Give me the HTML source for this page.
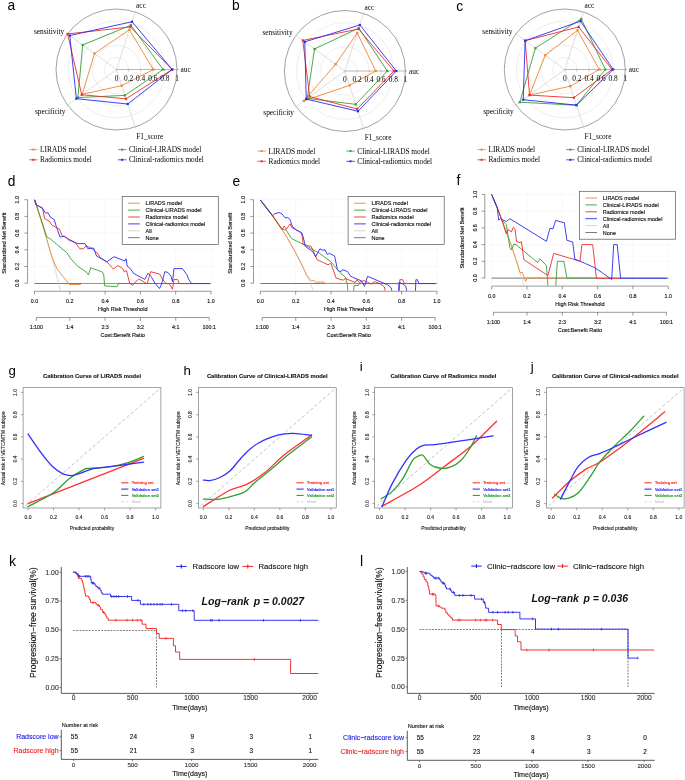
<!DOCTYPE html>
<html><head><meta charset="utf-8"><style>
html,body{margin:0;padding:0;background:#fff;width:685px;height:780px;overflow:hidden}
svg{display:block;will-change:transform}
</style></head><body>
<svg width="685" height="780" viewBox="0 0 685 780">
<rect width="685" height="780" fill="#fff"/>
<!-- radar a -->
<text x="7.6" y="10.4" font-size="13.8" font-family='"Liberation Sans", sans-serif' fill="#000">a</text>
<circle cx="116.5" cy="69.5" r="12.1" fill="none" stroke="#e2e2e2" stroke-width="0.6"/>
<circle cx="116.5" cy="69.5" r="24.2" fill="none" stroke="#e2e2e2" stroke-width="0.6"/>
<circle cx="116.5" cy="69.5" r="36.3" fill="none" stroke="#e2e2e2" stroke-width="0.6"/>
<circle cx="116.5" cy="69.5" r="48.4" fill="none" stroke="#e2e2e2" stroke-width="0.6"/>
<circle cx="116.5" cy="69.5" r="60.5" fill="none" stroke="#7a7a7a" stroke-width="0.7"/>
<line x1="116.5" y1="69.5" x2="178.51" y2="69.5" stroke="#8a8a8a" stroke-width="0.6"/>
<line x1="116.5" y1="69.5" x2="135.66" y2="10.52" stroke="#c8c8c8" stroke-width="0.6"/>
<line x1="116.5" y1="69.5" x2="66.33" y2="33.05" stroke="#c8c8c8" stroke-width="0.6"/>
<line x1="116.5" y1="69.5" x2="66.33" y2="105.95" stroke="#c8c8c8" stroke-width="0.6"/>
<line x1="116.5" y1="69.5" x2="135.66" y2="128.48" stroke="#c8c8c8" stroke-width="0.6"/>
<polygon points="153.41,69.5 129.4,29.8 94.47,53.5 82.24,94.39 121.73,85.61" fill="none" stroke="#ea8635" stroke-width="0.9" stroke-linejoin="round"/>
<rect x="152.31" y="68.4" width="2.2" height="2.2" fill="#ea8635"/>
<rect x="128.3" y="28.7" width="2.2" height="2.2" fill="#ea8635"/>
<rect x="93.37" y="52.4" width="2.2" height="2.2" fill="#ea8635"/>
<rect x="81.14" y="93.29" width="2.2" height="2.2" fill="#ea8635"/>
<rect x="120.63" y="84.51" width="2.2" height="2.2" fill="#ea8635"/>
<polygon points="163.09,69.5 130.9,25.2 82.73,44.96 77.83,97.59 124.91,95.39" fill="none" stroke="#3b9e3b" stroke-width="0.9" stroke-linejoin="round"/>
<rect x="161.99" y="68.4" width="2.2" height="2.2" fill="#3b9e3b"/>
<rect x="129.8" y="24.1" width="2.2" height="2.2" fill="#3b9e3b"/>
<rect x="81.63" y="43.86" width="2.2" height="2.2" fill="#3b9e3b"/>
<rect x="76.73" y="96.49" width="2.2" height="2.2" fill="#3b9e3b"/>
<rect x="123.81" y="94.29" width="2.2" height="2.2" fill="#3b9e3b"/>
<polygon points="172.16,69.5 130.33,26.92 67.55,33.94 81.75,94.75 126.03,98.84" fill="none" stroke="#f02b2b" stroke-width="0.9" stroke-linejoin="round"/>
<rect x="171.06" y="68.4" width="2.2" height="2.2" fill="#f02b2b"/>
<rect x="129.23" y="25.82" width="2.2" height="2.2" fill="#f02b2b"/>
<rect x="66.45" y="32.84" width="2.2" height="2.2" fill="#f02b2b"/>
<rect x="80.65" y="93.65" width="2.2" height="2.2" fill="#f02b2b"/>
<rect x="124.93" y="97.74" width="2.2" height="2.2" fill="#f02b2b"/>
<polygon points="172.16,69.5 132.02,21.74 69.76,35.54 76.36,98.66 127.72,104.02" fill="none" stroke="#2b2bf0" stroke-width="0.9" stroke-linejoin="round"/>
<rect x="171.06" y="68.4" width="2.2" height="2.2" fill="#2b2bf0"/>
<rect x="130.92" y="20.64" width="2.2" height="2.2" fill="#2b2bf0"/>
<rect x="68.66" y="34.44" width="2.2" height="2.2" fill="#2b2bf0"/>
<rect x="75.26" y="97.56" width="2.2" height="2.2" fill="#2b2bf0"/>
<rect x="126.62" y="102.92" width="2.2" height="2.2" fill="#2b2bf0"/>
<text x="141" y="8" font-size="7.35" font-family='"Liberation Serif", serif' fill="#000" text-anchor="middle">acc</text>
<text x="64.2" y="33.5" font-size="7.35" font-family='"Liberation Serif", serif' fill="#000" text-anchor="end">sensitivity</text>
<text x="180.5" y="72.3" font-size="7.35" font-family='"Liberation Serif", serif' fill="#000">auc</text>
<text x="65.5" y="113.5" font-size="7.35" font-family='"Liberation Serif", serif' fill="#000" text-anchor="end">specificity</text>
<text x="149.7" y="138.5" font-size="7.35" font-family='"Liberation Serif", serif' fill="#000" text-anchor="middle">F1_score</text>
<line x1="116.5" y1="69.5" x2="116.5" y2="70.9" stroke="#8a8a8a" stroke-width="0.5"/>
<line x1="128.6" y1="69.5" x2="128.6" y2="70.9" stroke="#8a8a8a" stroke-width="0.5"/>
<line x1="140.7" y1="69.5" x2="140.7" y2="70.9" stroke="#8a8a8a" stroke-width="0.5"/>
<line x1="152.8" y1="69.5" x2="152.8" y2="70.9" stroke="#8a8a8a" stroke-width="0.5"/>
<line x1="164.9" y1="69.5" x2="164.9" y2="70.9" stroke="#8a8a8a" stroke-width="0.5"/>
<line x1="177" y1="69.5" x2="177" y2="70.9" stroke="#8a8a8a" stroke-width="0.5"/>
<text x="116.5" y="80.5" font-size="7.35" font-family='"Liberation Serif", serif' fill="#000" text-anchor="middle">0</text>
<text x="128.6" y="80.5" font-size="7.35" font-family='"Liberation Serif", serif' fill="#000" text-anchor="middle">0.2</text>
<text x="140.7" y="80.5" font-size="7.35" font-family='"Liberation Serif", serif' fill="#000" text-anchor="middle">0.4</text>
<text x="152.8" y="80.5" font-size="7.35" font-family='"Liberation Serif", serif' fill="#000" text-anchor="middle">0.6</text>
<text x="164.9" y="80.5" font-size="7.35" font-family='"Liberation Serif", serif' fill="#000" text-anchor="middle">0.8</text>
<text x="177" y="80.5" font-size="7.35" font-family='"Liberation Serif", serif' fill="#000" text-anchor="middle">1</text>
<line x1="29.1" y1="149.6" x2="37.6" y2="149.6" stroke="#ea8635" stroke-width="0.8"/>
<rect x="32.3" y="148.6" width="2" height="2" fill="#ea8635"/>
<text x="40.1" y="152.2" font-size="7.35" font-family='"Liberation Serif", serif' fill="#000">LIRADS model</text>
<line x1="117.9" y1="149.6" x2="126.4" y2="149.6" stroke="#3b9e3b" stroke-width="0.8"/>
<rect x="121.1" y="148.6" width="2" height="2" fill="#3b9e3b"/>
<text x="128.9" y="152.2" font-size="7.35" font-family='"Liberation Serif", serif' fill="#000">Clinical-LIRADS model</text>
<line x1="29.1" y1="159.8" x2="37.6" y2="159.8" stroke="#f02b2b" stroke-width="0.8"/>
<rect x="32.3" y="158.8" width="2" height="2" fill="#f02b2b"/>
<text x="40.1" y="162.4" font-size="7.35" font-family='"Liberation Serif", serif' fill="#000">Radiomics model</text>
<line x1="117.9" y1="159.8" x2="126.4" y2="159.8" stroke="#2b2bf0" stroke-width="0.8"/>
<rect x="121.1" y="158.8" width="2" height="2" fill="#2b2bf0"/>
<text x="128.9" y="162.4" font-size="7.35" font-family='"Liberation Serif", serif' fill="#000">Clinical-radiomics model</text>
<text x="232" y="10.4" font-size="13.8" font-family='"Liberation Sans", sans-serif' fill="#000">b</text>
<circle cx="344.9" cy="71" r="12.1" fill="none" stroke="#e2e2e2" stroke-width="0.6"/>
<circle cx="344.9" cy="71" r="24.2" fill="none" stroke="#e2e2e2" stroke-width="0.6"/>
<circle cx="344.9" cy="71" r="36.3" fill="none" stroke="#e2e2e2" stroke-width="0.6"/>
<circle cx="344.9" cy="71" r="48.4" fill="none" stroke="#e2e2e2" stroke-width="0.6"/>
<circle cx="344.9" cy="71" r="60.5" fill="none" stroke="#7a7a7a" stroke-width="0.7"/>
<line x1="344.9" y1="71" x2="406.91" y2="71" stroke="#8a8a8a" stroke-width="0.6"/>
<line x1="344.9" y1="71" x2="364.06" y2="12.02" stroke="#c8c8c8" stroke-width="0.6"/>
<line x1="344.9" y1="71" x2="294.73" y2="34.55" stroke="#c8c8c8" stroke-width="0.6"/>
<line x1="344.9" y1="71" x2="294.73" y2="107.45" stroke="#c8c8c8" stroke-width="0.6"/>
<line x1="344.9" y1="71" x2="364.06" y2="129.98" stroke="#c8c8c8" stroke-width="0.6"/>
<polygon points="375.75,71 357.24,33.02 335.6,64.24 303.79,100.87 349.57,85.38" fill="none" stroke="#ea8635" stroke-width="0.9" stroke-linejoin="round"/>
<rect x="374.65" y="69.9" width="2.2" height="2.2" fill="#ea8635"/>
<rect x="356.14" y="31.92" width="2.2" height="2.2" fill="#ea8635"/>
<rect x="334.5" y="63.14" width="2.2" height="2.2" fill="#ea8635"/>
<rect x="302.69" y="99.77" width="2.2" height="2.2" fill="#ea8635"/>
<rect x="348.47" y="84.28" width="2.2" height="2.2" fill="#ea8635"/>
<polygon points="387.25,71 358.83,28.13 314.55,48.95 307.21,98.38 355.74,104.37" fill="none" stroke="#3b9e3b" stroke-width="0.9" stroke-linejoin="round"/>
<rect x="386.15" y="69.9" width="2.2" height="2.2" fill="#3b9e3b"/>
<rect x="357.73" y="27.03" width="2.2" height="2.2" fill="#3b9e3b"/>
<rect x="313.45" y="47.85" width="2.2" height="2.2" fill="#3b9e3b"/>
<rect x="306.11" y="97.28" width="2.2" height="2.2" fill="#3b9e3b"/>
<rect x="354.64" y="103.27" width="2.2" height="2.2" fill="#3b9e3b"/>
<polygon points="393.9,71 358.55,29 302.81,40.42 309.66,96.6 357.24,108.98" fill="none" stroke="#f02b2b" stroke-width="0.9" stroke-linejoin="round"/>
<rect x="392.8" y="69.9" width="2.2" height="2.2" fill="#f02b2b"/>
<rect x="357.45" y="27.9" width="2.2" height="2.2" fill="#f02b2b"/>
<rect x="301.71" y="39.32" width="2.2" height="2.2" fill="#f02b2b"/>
<rect x="308.56" y="95.5" width="2.2" height="2.2" fill="#f02b2b"/>
<rect x="356.14" y="107.88" width="2.2" height="2.2" fill="#f02b2b"/>
<polygon points="396.32,71 359.86,24.97 304.76,41.84 306.23,99.09 357.99,111.28" fill="none" stroke="#2b2bf0" stroke-width="0.9" stroke-linejoin="round"/>
<rect x="395.22" y="69.9" width="2.2" height="2.2" fill="#2b2bf0"/>
<rect x="358.76" y="23.87" width="2.2" height="2.2" fill="#2b2bf0"/>
<rect x="303.66" y="40.74" width="2.2" height="2.2" fill="#2b2bf0"/>
<rect x="305.13" y="97.99" width="2.2" height="2.2" fill="#2b2bf0"/>
<rect x="356.89" y="110.18" width="2.2" height="2.2" fill="#2b2bf0"/>
<text x="369.4" y="9.5" font-size="7.35" font-family='"Liberation Serif", serif' fill="#000" text-anchor="middle">acc</text>
<text x="292.6" y="35" font-size="7.35" font-family='"Liberation Serif", serif' fill="#000" text-anchor="end">sensitivity</text>
<text x="408.9" y="73.8" font-size="7.35" font-family='"Liberation Serif", serif' fill="#000">auc</text>
<text x="293.9" y="115" font-size="7.35" font-family='"Liberation Serif", serif' fill="#000" text-anchor="end">specificity</text>
<text x="378.1" y="140" font-size="7.35" font-family='"Liberation Serif", serif' fill="#000" text-anchor="middle">F1_score</text>
<line x1="344.9" y1="71" x2="344.9" y2="72.4" stroke="#8a8a8a" stroke-width="0.5"/>
<line x1="357" y1="71" x2="357" y2="72.4" stroke="#8a8a8a" stroke-width="0.5"/>
<line x1="369.1" y1="71" x2="369.1" y2="72.4" stroke="#8a8a8a" stroke-width="0.5"/>
<line x1="381.2" y1="71" x2="381.2" y2="72.4" stroke="#8a8a8a" stroke-width="0.5"/>
<line x1="393.3" y1="71" x2="393.3" y2="72.4" stroke="#8a8a8a" stroke-width="0.5"/>
<line x1="405.4" y1="71" x2="405.4" y2="72.4" stroke="#8a8a8a" stroke-width="0.5"/>
<text x="344.9" y="82" font-size="7.35" font-family='"Liberation Serif", serif' fill="#000" text-anchor="middle">0</text>
<text x="357" y="82" font-size="7.35" font-family='"Liberation Serif", serif' fill="#000" text-anchor="middle">0.2</text>
<text x="369.1" y="82" font-size="7.35" font-family='"Liberation Serif", serif' fill="#000" text-anchor="middle">0.4</text>
<text x="381.2" y="82" font-size="7.35" font-family='"Liberation Serif", serif' fill="#000" text-anchor="middle">0.6</text>
<text x="393.3" y="82" font-size="7.35" font-family='"Liberation Serif", serif' fill="#000" text-anchor="middle">0.8</text>
<text x="405.4" y="82" font-size="7.35" font-family='"Liberation Serif", serif' fill="#000" text-anchor="middle">1</text>
<line x1="257.5" y1="151.1" x2="266" y2="151.1" stroke="#ea8635" stroke-width="0.8"/>
<rect x="260.7" y="150.1" width="2" height="2" fill="#ea8635"/>
<text x="268.5" y="153.7" font-size="7.35" font-family='"Liberation Serif", serif' fill="#000">LIRADS model</text>
<line x1="346.3" y1="151.1" x2="354.8" y2="151.1" stroke="#3b9e3b" stroke-width="0.8"/>
<rect x="349.5" y="150.1" width="2" height="2" fill="#3b9e3b"/>
<text x="357.3" y="153.7" font-size="7.35" font-family='"Liberation Serif", serif' fill="#000">Clinical-LIRADS model</text>
<line x1="257.5" y1="161.3" x2="266" y2="161.3" stroke="#f02b2b" stroke-width="0.8"/>
<rect x="260.7" y="160.3" width="2" height="2" fill="#f02b2b"/>
<text x="268.5" y="163.9" font-size="7.35" font-family='"Liberation Serif", serif' fill="#000">Radiomics model</text>
<line x1="346.3" y1="161.3" x2="354.8" y2="161.3" stroke="#2b2bf0" stroke-width="0.8"/>
<rect x="349.5" y="160.3" width="2" height="2" fill="#2b2bf0"/>
<text x="357.3" y="163.9" font-size="7.35" font-family='"Liberation Serif", serif' fill="#000">Clinical-radiomics model</text>
<text x="456.2" y="10.5" font-size="13.8" font-family='"Liberation Sans", sans-serif' fill="#000">c</text>
<circle cx="564.8" cy="69.5" r="12.1" fill="none" stroke="#e2e2e2" stroke-width="0.6"/>
<circle cx="564.8" cy="69.5" r="24.2" fill="none" stroke="#e2e2e2" stroke-width="0.6"/>
<circle cx="564.8" cy="69.5" r="36.3" fill="none" stroke="#e2e2e2" stroke-width="0.6"/>
<circle cx="564.8" cy="69.5" r="48.4" fill="none" stroke="#e2e2e2" stroke-width="0.6"/>
<circle cx="564.8" cy="69.5" r="60.5" fill="none" stroke="#7a7a7a" stroke-width="0.7"/>
<line x1="564.8" y1="69.5" x2="626.81" y2="69.5" stroke="#8a8a8a" stroke-width="0.6"/>
<line x1="564.8" y1="69.5" x2="583.96" y2="10.52" stroke="#c8c8c8" stroke-width="0.6"/>
<line x1="564.8" y1="69.5" x2="514.63" y2="33.05" stroke="#c8c8c8" stroke-width="0.6"/>
<line x1="564.8" y1="69.5" x2="514.63" y2="105.95" stroke="#c8c8c8" stroke-width="0.6"/>
<line x1="564.8" y1="69.5" x2="583.96" y2="128.48" stroke="#c8c8c8" stroke-width="0.6"/>
<polygon points="599.28,69.5 577.51,30.37 545.22,55.28 529.56,95.1 570.22,86.19" fill="none" stroke="#ea8635" stroke-width="0.9" stroke-linejoin="round"/>
<rect x="598.18" y="68.4" width="2.2" height="2.2" fill="#ea8635"/>
<rect x="576.41" y="29.27" width="2.2" height="2.2" fill="#ea8635"/>
<rect x="544.12" y="54.18" width="2.2" height="2.2" fill="#ea8635"/>
<rect x="528.46" y="94" width="2.2" height="2.2" fill="#ea8635"/>
<rect x="569.12" y="85.09" width="2.2" height="2.2" fill="#ea8635"/>
<polygon points="605.33,69.5 581.25,18.87 535.43,48.16 519.77,102.22 576.39,105.17" fill="none" stroke="#3b9e3b" stroke-width="0.9" stroke-linejoin="round"/>
<rect x="604.23" y="68.4" width="2.2" height="2.2" fill="#3b9e3b"/>
<rect x="580.15" y="17.77" width="2.2" height="2.2" fill="#3b9e3b"/>
<rect x="534.33" y="47.06" width="2.2" height="2.2" fill="#3b9e3b"/>
<rect x="518.67" y="101.12" width="2.2" height="2.2" fill="#3b9e3b"/>
<rect x="575.29" y="104.07" width="2.2" height="2.2" fill="#3b9e3b"/>
<polygon points="611.99,69.5 578.63,26.92 525.15,40.7 529.56,95.1 573.96,97.69" fill="none" stroke="#f02b2b" stroke-width="0.9" stroke-linejoin="round"/>
<rect x="610.89" y="68.4" width="2.2" height="2.2" fill="#f02b2b"/>
<rect x="577.53" y="25.82" width="2.2" height="2.2" fill="#f02b2b"/>
<rect x="524.05" y="39.6" width="2.2" height="2.2" fill="#f02b2b"/>
<rect x="528.46" y="94" width="2.2" height="2.2" fill="#f02b2b"/>
<rect x="572.86" y="96.59" width="2.2" height="2.2" fill="#f02b2b"/>
<polygon points="613.2,69.5 580.5,21.17 525.15,40.7 523.2,99.73 576.39,105.17" fill="none" stroke="#2b2bf0" stroke-width="0.9" stroke-linejoin="round"/>
<rect x="612.1" y="68.4" width="2.2" height="2.2" fill="#2b2bf0"/>
<rect x="579.4" y="20.07" width="2.2" height="2.2" fill="#2b2bf0"/>
<rect x="524.05" y="39.6" width="2.2" height="2.2" fill="#2b2bf0"/>
<rect x="522.1" y="98.63" width="2.2" height="2.2" fill="#2b2bf0"/>
<rect x="575.29" y="104.07" width="2.2" height="2.2" fill="#2b2bf0"/>
<text x="589.3" y="8" font-size="7.35" font-family='"Liberation Serif", serif' fill="#000" text-anchor="middle">acc</text>
<text x="512.5" y="33.5" font-size="7.35" font-family='"Liberation Serif", serif' fill="#000" text-anchor="end">sensitivity</text>
<text x="628.8" y="72.3" font-size="7.35" font-family='"Liberation Serif", serif' fill="#000">auc</text>
<text x="513.8" y="113.5" font-size="7.35" font-family='"Liberation Serif", serif' fill="#000" text-anchor="end">specificity</text>
<text x="598" y="138.5" font-size="7.35" font-family='"Liberation Serif", serif' fill="#000" text-anchor="middle">F1_score</text>
<line x1="564.8" y1="69.5" x2="564.8" y2="70.9" stroke="#8a8a8a" stroke-width="0.5"/>
<line x1="576.9" y1="69.5" x2="576.9" y2="70.9" stroke="#8a8a8a" stroke-width="0.5"/>
<line x1="589" y1="69.5" x2="589" y2="70.9" stroke="#8a8a8a" stroke-width="0.5"/>
<line x1="601.1" y1="69.5" x2="601.1" y2="70.9" stroke="#8a8a8a" stroke-width="0.5"/>
<line x1="613.2" y1="69.5" x2="613.2" y2="70.9" stroke="#8a8a8a" stroke-width="0.5"/>
<line x1="625.3" y1="69.5" x2="625.3" y2="70.9" stroke="#8a8a8a" stroke-width="0.5"/>
<text x="564.8" y="80.5" font-size="7.35" font-family='"Liberation Serif", serif' fill="#000" text-anchor="middle">0</text>
<text x="576.9" y="80.5" font-size="7.35" font-family='"Liberation Serif", serif' fill="#000" text-anchor="middle">0.2</text>
<text x="589" y="80.5" font-size="7.35" font-family='"Liberation Serif", serif' fill="#000" text-anchor="middle">0.4</text>
<text x="601.1" y="80.5" font-size="7.35" font-family='"Liberation Serif", serif' fill="#000" text-anchor="middle">0.6</text>
<text x="613.2" y="80.5" font-size="7.35" font-family='"Liberation Serif", serif' fill="#000" text-anchor="middle">0.8</text>
<text x="625.3" y="80.5" font-size="7.35" font-family='"Liberation Serif", serif' fill="#000" text-anchor="middle">1</text>
<line x1="477.4" y1="149.6" x2="485.9" y2="149.6" stroke="#ea8635" stroke-width="0.8"/>
<rect x="480.6" y="148.6" width="2" height="2" fill="#ea8635"/>
<text x="488.4" y="152.2" font-size="7.35" font-family='"Liberation Serif", serif' fill="#000">LIRADS model</text>
<line x1="566.2" y1="149.6" x2="574.7" y2="149.6" stroke="#3b9e3b" stroke-width="0.8"/>
<rect x="569.4" y="148.6" width="2" height="2" fill="#3b9e3b"/>
<text x="577.2" y="152.2" font-size="7.35" font-family='"Liberation Serif", serif' fill="#000">Clinical-LIRADS model</text>
<line x1="477.4" y1="159.8" x2="485.9" y2="159.8" stroke="#f02b2b" stroke-width="0.8"/>
<rect x="480.6" y="158.8" width="2" height="2" fill="#f02b2b"/>
<text x="488.4" y="162.4" font-size="7.35" font-family='"Liberation Serif", serif' fill="#000">Radiomics model</text>
<line x1="566.2" y1="159.8" x2="574.7" y2="159.8" stroke="#2b2bf0" stroke-width="0.8"/>
<rect x="569.4" y="158.8" width="2" height="2" fill="#2b2bf0"/>
<text x="577.2" y="162.4" font-size="7.35" font-family='"Liberation Serif", serif' fill="#000">Clinical-radiomics model</text>
<text x="7.7" y="185.6" font-size="13.8" font-family='"Liberation Sans", sans-serif' fill="#000">d</text>
<line x1="34.5" y1="196" x2="34.5" y2="291" stroke="#f0f0f0" stroke-width="0.5"/>
<line x1="29.5" y1="283.2" x2="216" y2="283.2" stroke="#f0f0f0" stroke-width="0.5"/>
<line x1="69.8" y1="196" x2="69.8" y2="291" stroke="#f0f0f0" stroke-width="0.5"/>
<line x1="29.5" y1="266.5" x2="216" y2="266.5" stroke="#f0f0f0" stroke-width="0.5"/>
<line x1="105.1" y1="196" x2="105.1" y2="291" stroke="#f0f0f0" stroke-width="0.5"/>
<line x1="29.5" y1="249.8" x2="216" y2="249.8" stroke="#f0f0f0" stroke-width="0.5"/>
<line x1="140.4" y1="196" x2="140.4" y2="291" stroke="#f0f0f0" stroke-width="0.5"/>
<line x1="29.5" y1="233.1" x2="216" y2="233.1" stroke="#f0f0f0" stroke-width="0.5"/>
<line x1="175.7" y1="196" x2="175.7" y2="291" stroke="#f0f0f0" stroke-width="0.5"/>
<line x1="29.5" y1="216.4" x2="216" y2="216.4" stroke="#f0f0f0" stroke-width="0.5"/>
<line x1="211" y1="196" x2="211" y2="291" stroke="#f0f0f0" stroke-width="0.5"/>
<line x1="29.5" y1="199.7" x2="216" y2="199.7" stroke="#f0f0f0" stroke-width="0.5"/>
<line x1="27.6" y1="283.2" x2="27.6" y2="199.7" stroke="#555" stroke-width="0.6"/>
<line x1="24.4" y1="283.2" x2="27.6" y2="283.2" stroke="#555" stroke-width="0.6"/>
<text x="19.4" y="283.2" font-size="5.3" font-family='"Liberation Sans", sans-serif' fill="#111" text-anchor="middle" transform="rotate(-90 19.4 283.2)" stroke="#111" stroke-width="0.14">0.0</text>
<line x1="24.4" y1="266.5" x2="27.6" y2="266.5" stroke="#555" stroke-width="0.6"/>
<text x="19.4" y="266.5" font-size="5.3" font-family='"Liberation Sans", sans-serif' fill="#111" text-anchor="middle" transform="rotate(-90 19.4 266.5)" stroke="#111" stroke-width="0.14">0.2</text>
<line x1="24.4" y1="249.8" x2="27.6" y2="249.8" stroke="#555" stroke-width="0.6"/>
<text x="19.4" y="249.8" font-size="5.3" font-family='"Liberation Sans", sans-serif' fill="#111" text-anchor="middle" transform="rotate(-90 19.4 249.8)" stroke="#111" stroke-width="0.14">0.4</text>
<line x1="24.4" y1="233.1" x2="27.6" y2="233.1" stroke="#555" stroke-width="0.6"/>
<text x="19.4" y="233.1" font-size="5.3" font-family='"Liberation Sans", sans-serif' fill="#111" text-anchor="middle" transform="rotate(-90 19.4 233.1)" stroke="#111" stroke-width="0.14">0.6</text>
<line x1="24.4" y1="216.4" x2="27.6" y2="216.4" stroke="#555" stroke-width="0.6"/>
<text x="19.4" y="216.4" font-size="5.3" font-family='"Liberation Sans", sans-serif' fill="#111" text-anchor="middle" transform="rotate(-90 19.4 216.4)" stroke="#111" stroke-width="0.14">0.8</text>
<line x1="24.4" y1="199.7" x2="27.6" y2="199.7" stroke="#555" stroke-width="0.6"/>
<text x="19.4" y="199.7" font-size="5.3" font-family='"Liberation Sans", sans-serif' fill="#111" text-anchor="middle" transform="rotate(-90 19.4 199.7)" stroke="#111" stroke-width="0.14">1.0</text>
<text x="6.3" y="243.2" font-size="5.5" font-family='"Liberation Sans", sans-serif' fill="#111" text-anchor="middle" transform="rotate(-90 6.3 243.2)" stroke="#111" stroke-width="0.14">Standardized Net Benefit</text>
<line x1="34.5" y1="291.3" x2="211" y2="291.3" stroke="#555" stroke-width="0.6"/>
<line x1="34.5" y1="291.3" x2="34.5" y2="294.6" stroke="#555" stroke-width="0.6"/>
<text x="34.5" y="303.3" font-size="5.3" font-family='"Liberation Sans", sans-serif' fill="#111" text-anchor="middle" stroke="#111" stroke-width="0.14">0.0</text>
<line x1="69.8" y1="291.3" x2="69.8" y2="294.6" stroke="#555" stroke-width="0.6"/>
<text x="69.8" y="303.3" font-size="5.3" font-family='"Liberation Sans", sans-serif' fill="#111" text-anchor="middle" stroke="#111" stroke-width="0.14">0.2</text>
<line x1="105.1" y1="291.3" x2="105.1" y2="294.6" stroke="#555" stroke-width="0.6"/>
<text x="105.1" y="303.3" font-size="5.3" font-family='"Liberation Sans", sans-serif' fill="#111" text-anchor="middle" stroke="#111" stroke-width="0.14">0.4</text>
<line x1="140.4" y1="291.3" x2="140.4" y2="294.6" stroke="#555" stroke-width="0.6"/>
<text x="140.4" y="303.3" font-size="5.3" font-family='"Liberation Sans", sans-serif' fill="#111" text-anchor="middle" stroke="#111" stroke-width="0.14">0.6</text>
<line x1="175.7" y1="291.3" x2="175.7" y2="294.6" stroke="#555" stroke-width="0.6"/>
<text x="175.7" y="303.3" font-size="5.3" font-family='"Liberation Sans", sans-serif' fill="#111" text-anchor="middle" stroke="#111" stroke-width="0.14">0.8</text>
<line x1="211" y1="291.3" x2="211" y2="294.6" stroke="#555" stroke-width="0.6"/>
<text x="211" y="303.3" font-size="5.3" font-family='"Liberation Sans", sans-serif' fill="#111" text-anchor="middle" stroke="#111" stroke-width="0.14">1.0</text>
<text x="122.75" y="310.9" font-size="5.5" font-family='"Liberation Sans", sans-serif' fill="#111" text-anchor="middle" stroke="#111" stroke-width="0.14">High Risk Threshold</text>
<line x1="36.27" y1="317.5" x2="209.23" y2="317.5" stroke="#555" stroke-width="0.6"/>
<line x1="36.27" y1="317.5" x2="36.27" y2="320.8" stroke="#555" stroke-width="0.6"/>
<text x="36.27" y="329.3" font-size="5.3" font-family='"Liberation Sans", sans-serif' fill="#111" text-anchor="middle" stroke="#111" stroke-width="0.14">1:100</text>
<line x1="69.8" y1="317.5" x2="69.8" y2="320.8" stroke="#555" stroke-width="0.6"/>
<text x="69.8" y="329.3" font-size="5.3" font-family='"Liberation Sans", sans-serif' fill="#111" text-anchor="middle" stroke="#111" stroke-width="0.14">1:4</text>
<line x1="105.1" y1="317.5" x2="105.1" y2="320.8" stroke="#555" stroke-width="0.6"/>
<text x="105.1" y="329.3" font-size="5.3" font-family='"Liberation Sans", sans-serif' fill="#111" text-anchor="middle" stroke="#111" stroke-width="0.14">2:3</text>
<line x1="140.4" y1="317.5" x2="140.4" y2="320.8" stroke="#555" stroke-width="0.6"/>
<text x="140.4" y="329.3" font-size="5.3" font-family='"Liberation Sans", sans-serif' fill="#111" text-anchor="middle" stroke="#111" stroke-width="0.14">3:2</text>
<line x1="175.7" y1="317.5" x2="175.7" y2="320.8" stroke="#555" stroke-width="0.6"/>
<text x="175.7" y="329.3" font-size="5.3" font-family='"Liberation Sans", sans-serif' fill="#111" text-anchor="middle" stroke="#111" stroke-width="0.14">4:1</text>
<line x1="209.23" y1="317.5" x2="209.23" y2="320.8" stroke="#555" stroke-width="0.6"/>
<text x="209.23" y="329.3" font-size="5.3" font-family='"Liberation Sans", sans-serif' fill="#111" text-anchor="middle" stroke="#111" stroke-width="0.14">100:1</text>
<text x="122.75" y="336.8" font-size="5.5" font-family='"Liberation Sans", sans-serif' fill="#111" text-anchor="middle" stroke="#111" stroke-width="0.14">Cost:Benefit Ratio</text>
<clipPath id="clipd"><rect x="29" y="190" width="190" height="100.7"/></clipPath>
<g clip-path="url(#clipd)"><g transform="translate(0,0.3)">
<line x1="34.5" y1="283.2" x2="211" y2="283.2" stroke="#6a6a6a" stroke-width="0.9"/>
<polyline points="34.5,199.7 35.38,202.34 36.27,205.01 37.15,207.71 38.03,210.43 38.91,213.19 39.8,215.97 40.68,218.78 41.56,221.62 42.44,224.48 43.33,227.38 44.21,230.31 45.09,233.27 45.97,236.27 46.85,239.29 47.74,242.35 48.62,245.44 49.5,248.56 50.39,251.72 51.27,254.91 52.15,258.14 53.03,261.41 53.92,264.71 54.8,268.05 55.68,271.43 56.56,274.84 57.45,278.3 58.33,281.79 59.21,285.33 60.09,288.9 60.98,292.52 61.86,296.18 62.74,299.89 62.74,299.9" fill="none" stroke="#c8c8c8" stroke-width="0.7" stroke-linejoin="round"/>
<polyline points="34.5,199.7 35.38,202.34 36.27,205.01 37.15,207.71 38.03,210.43 38.91,213.19 39.8,215.97 40.68,218.78 41.56,221.62 42.44,224.48 43.33,227.38 44.21,230.31 45.09,233.27 45.97,236.27 46.85,239.29 47.74,242.35 48.62,245.44 49.5,248.56 52.5,258 57.1,268.8 68.8,283.4 69.5,284.2 80.5,284.2 81.5,283.2 118.4,283.2" fill="none" stroke="#ea8635" stroke-width="0.9" stroke-linejoin="round"/>
<polyline points="34.5,199.5 36.7,205.3 46.9,236.7 49.8,238.2 67.3,252.8 70.3,257.9 77.6,265.9 86.3,271.8 88.5,274.7 90.7,267.4 102.4,271.8 103.8,274.7 104.6,285.6 117,286.4 118.4,283.2 179.4,283.2" fill="none" stroke="#3b9e3b" stroke-width="0.9" stroke-linejoin="round"/>
<polyline points="34.5,199.5 36,204.6 42.5,207.5 44.7,218.5 49.1,220.7 52,225 56.4,227.2 59.3,228.7 62.2,235.3 65.1,236.7 75.4,242.6 79.7,248.4 83.4,248.4 86.3,245.5 92.2,248.4 97.3,252.8 100.2,257.2 106.8,261.5 109.7,264.5 113.3,268.8 117.7,265.2 122.7,268.3 124.2,271.4 126.5,270.2 129.6,282.9 132.6,285.2 134.9,282.1 138.8,278.7 147.2,283.6 150.6,271.4 159.5,273.7 162.5,279 166.3,283.6 169,283 172.5,289 174,279 177.8,279.4 179.4,283.3 191.6,283.3" fill="none" stroke="#f02b2b" stroke-width="0.9" stroke-linejoin="round"/>
<polyline points="34.5,199.5 36.7,204.6 42.5,208.2 45.4,212.6 48,212.6 50.5,217 54.2,219.2 56.4,226.5 60,236.7 64.4,236 68.8,239.6 77.6,243.3 84.9,243.3 87.8,248.4 93.6,247.7 96.5,255.7 106.8,261.5 114,256.4 125,260.7 126,258.4 127.3,266 130.3,268.3 133.4,272.9 140.3,276.8 144.9,279 148,272.9 151,276 154.9,282.9 159.5,288.2 161,285.2 162.5,280.6 164.8,271.4 167.9,272.1 171,276 172.5,281.3 174,268.3 182.4,268.3 187,274.5 188.6,279 191.6,283.3 209.3,283.3" fill="none" stroke="#2b2bf0" stroke-width="0.9" stroke-linejoin="round"/>
</g></g>
<rect x="122.2" y="196.5" width="96.1" height="47.9" fill="#fff" stroke="#555" stroke-width="0.7"/>
<line x1="128.2" y1="203.2" x2="139.8" y2="203.2" stroke="#ea8635" stroke-width="0.9"/>
<text x="145.6" y="205.2" font-size="5.5" font-family='"Liberation Sans", sans-serif' fill="#111" stroke="#111" stroke-width="0.14">LIRADS model</text>
<line x1="128.2" y1="210.1" x2="139.8" y2="210.1" stroke="#3b9e3b" stroke-width="0.9"/>
<text x="145.6" y="212.1" font-size="5.5" font-family='"Liberation Sans", sans-serif' fill="#111" stroke="#111" stroke-width="0.14">Clinical-LIRADS model</text>
<line x1="128.2" y1="217" x2="139.8" y2="217" stroke="#f02b2b" stroke-width="0.9"/>
<text x="145.6" y="219" font-size="5.5" font-family='"Liberation Sans", sans-serif' fill="#111" stroke="#111" stroke-width="0.14">Radiomics model</text>
<line x1="128.2" y1="223.9" x2="139.8" y2="223.9" stroke="#2b2bf0" stroke-width="0.9"/>
<text x="145.6" y="225.9" font-size="5.5" font-family='"Liberation Sans", sans-serif' fill="#111" stroke="#111" stroke-width="0.14">Clinical-radiomics model</text>
<line x1="128.2" y1="230.8" x2="139.8" y2="230.8" stroke="#d0d0d0" stroke-width="0.9"/>
<text x="145.6" y="232.8" font-size="5.5" font-family='"Liberation Sans", sans-serif' fill="#111" stroke="#111" stroke-width="0.14">All</text>
<line x1="128.2" y1="237.7" x2="139.8" y2="237.7" stroke="#6a6a6a" stroke-width="0.9"/>
<text x="145.6" y="239.7" font-size="5.5" font-family='"Liberation Sans", sans-serif' fill="#111" stroke="#111" stroke-width="0.14">None</text>
<text x="232.6" y="185.6" font-size="13.8" font-family='"Liberation Sans", sans-serif' fill="#000">e</text>
<line x1="260.4" y1="196" x2="260.4" y2="291" stroke="#f0f0f0" stroke-width="0.5"/>
<line x1="255.4" y1="283.2" x2="441.9" y2="283.2" stroke="#f0f0f0" stroke-width="0.5"/>
<line x1="295.7" y1="196" x2="295.7" y2="291" stroke="#f0f0f0" stroke-width="0.5"/>
<line x1="255.4" y1="266.5" x2="441.9" y2="266.5" stroke="#f0f0f0" stroke-width="0.5"/>
<line x1="331" y1="196" x2="331" y2="291" stroke="#f0f0f0" stroke-width="0.5"/>
<line x1="255.4" y1="249.8" x2="441.9" y2="249.8" stroke="#f0f0f0" stroke-width="0.5"/>
<line x1="366.3" y1="196" x2="366.3" y2="291" stroke="#f0f0f0" stroke-width="0.5"/>
<line x1="255.4" y1="233.1" x2="441.9" y2="233.1" stroke="#f0f0f0" stroke-width="0.5"/>
<line x1="401.6" y1="196" x2="401.6" y2="291" stroke="#f0f0f0" stroke-width="0.5"/>
<line x1="255.4" y1="216.4" x2="441.9" y2="216.4" stroke="#f0f0f0" stroke-width="0.5"/>
<line x1="436.9" y1="196" x2="436.9" y2="291" stroke="#f0f0f0" stroke-width="0.5"/>
<line x1="255.4" y1="199.7" x2="441.9" y2="199.7" stroke="#f0f0f0" stroke-width="0.5"/>
<line x1="253.5" y1="283.2" x2="253.5" y2="199.7" stroke="#555" stroke-width="0.6"/>
<line x1="250.3" y1="283.2" x2="253.5" y2="283.2" stroke="#555" stroke-width="0.6"/>
<text x="245.3" y="283.2" font-size="5.3" font-family='"Liberation Sans", sans-serif' fill="#111" text-anchor="middle" transform="rotate(-90 245.3 283.2)" stroke="#111" stroke-width="0.14">0.0</text>
<line x1="250.3" y1="266.5" x2="253.5" y2="266.5" stroke="#555" stroke-width="0.6"/>
<text x="245.3" y="266.5" font-size="5.3" font-family='"Liberation Sans", sans-serif' fill="#111" text-anchor="middle" transform="rotate(-90 245.3 266.5)" stroke="#111" stroke-width="0.14">0.2</text>
<line x1="250.3" y1="249.8" x2="253.5" y2="249.8" stroke="#555" stroke-width="0.6"/>
<text x="245.3" y="249.8" font-size="5.3" font-family='"Liberation Sans", sans-serif' fill="#111" text-anchor="middle" transform="rotate(-90 245.3 249.8)" stroke="#111" stroke-width="0.14">0.4</text>
<line x1="250.3" y1="233.1" x2="253.5" y2="233.1" stroke="#555" stroke-width="0.6"/>
<text x="245.3" y="233.1" font-size="5.3" font-family='"Liberation Sans", sans-serif' fill="#111" text-anchor="middle" transform="rotate(-90 245.3 233.1)" stroke="#111" stroke-width="0.14">0.6</text>
<line x1="250.3" y1="216.4" x2="253.5" y2="216.4" stroke="#555" stroke-width="0.6"/>
<text x="245.3" y="216.4" font-size="5.3" font-family='"Liberation Sans", sans-serif' fill="#111" text-anchor="middle" transform="rotate(-90 245.3 216.4)" stroke="#111" stroke-width="0.14">0.8</text>
<line x1="250.3" y1="199.7" x2="253.5" y2="199.7" stroke="#555" stroke-width="0.6"/>
<text x="245.3" y="199.7" font-size="5.3" font-family='"Liberation Sans", sans-serif' fill="#111" text-anchor="middle" transform="rotate(-90 245.3 199.7)" stroke="#111" stroke-width="0.14">1.0</text>
<text x="232.2" y="243.2" font-size="5.5" font-family='"Liberation Sans", sans-serif' fill="#111" text-anchor="middle" transform="rotate(-90 232.2 243.2)" stroke="#111" stroke-width="0.14">Standardized Net Benefit</text>
<line x1="260.4" y1="291.3" x2="436.9" y2="291.3" stroke="#555" stroke-width="0.6"/>
<line x1="260.4" y1="291.3" x2="260.4" y2="294.6" stroke="#555" stroke-width="0.6"/>
<text x="260.4" y="303.3" font-size="5.3" font-family='"Liberation Sans", sans-serif' fill="#111" text-anchor="middle" stroke="#111" stroke-width="0.14">0.0</text>
<line x1="295.7" y1="291.3" x2="295.7" y2="294.6" stroke="#555" stroke-width="0.6"/>
<text x="295.7" y="303.3" font-size="5.3" font-family='"Liberation Sans", sans-serif' fill="#111" text-anchor="middle" stroke="#111" stroke-width="0.14">0.2</text>
<line x1="331" y1="291.3" x2="331" y2="294.6" stroke="#555" stroke-width="0.6"/>
<text x="331" y="303.3" font-size="5.3" font-family='"Liberation Sans", sans-serif' fill="#111" text-anchor="middle" stroke="#111" stroke-width="0.14">0.4</text>
<line x1="366.3" y1="291.3" x2="366.3" y2="294.6" stroke="#555" stroke-width="0.6"/>
<text x="366.3" y="303.3" font-size="5.3" font-family='"Liberation Sans", sans-serif' fill="#111" text-anchor="middle" stroke="#111" stroke-width="0.14">0.6</text>
<line x1="401.6" y1="291.3" x2="401.6" y2="294.6" stroke="#555" stroke-width="0.6"/>
<text x="401.6" y="303.3" font-size="5.3" font-family='"Liberation Sans", sans-serif' fill="#111" text-anchor="middle" stroke="#111" stroke-width="0.14">0.8</text>
<line x1="436.9" y1="291.3" x2="436.9" y2="294.6" stroke="#555" stroke-width="0.6"/>
<text x="436.9" y="303.3" font-size="5.3" font-family='"Liberation Sans", sans-serif' fill="#111" text-anchor="middle" stroke="#111" stroke-width="0.14">1.0</text>
<text x="348.65" y="310.9" font-size="5.5" font-family='"Liberation Sans", sans-serif' fill="#111" text-anchor="middle" stroke="#111" stroke-width="0.14">High Risk Threshold</text>
<line x1="262.16" y1="317.5" x2="435.13" y2="317.5" stroke="#555" stroke-width="0.6"/>
<line x1="262.16" y1="317.5" x2="262.16" y2="320.8" stroke="#555" stroke-width="0.6"/>
<text x="262.16" y="329.3" font-size="5.3" font-family='"Liberation Sans", sans-serif' fill="#111" text-anchor="middle" stroke="#111" stroke-width="0.14">1:100</text>
<line x1="295.7" y1="317.5" x2="295.7" y2="320.8" stroke="#555" stroke-width="0.6"/>
<text x="295.7" y="329.3" font-size="5.3" font-family='"Liberation Sans", sans-serif' fill="#111" text-anchor="middle" stroke="#111" stroke-width="0.14">1:4</text>
<line x1="331" y1="317.5" x2="331" y2="320.8" stroke="#555" stroke-width="0.6"/>
<text x="331" y="329.3" font-size="5.3" font-family='"Liberation Sans", sans-serif' fill="#111" text-anchor="middle" stroke="#111" stroke-width="0.14">2:3</text>
<line x1="366.3" y1="317.5" x2="366.3" y2="320.8" stroke="#555" stroke-width="0.6"/>
<text x="366.3" y="329.3" font-size="5.3" font-family='"Liberation Sans", sans-serif' fill="#111" text-anchor="middle" stroke="#111" stroke-width="0.14">3:2</text>
<line x1="401.6" y1="317.5" x2="401.6" y2="320.8" stroke="#555" stroke-width="0.6"/>
<text x="401.6" y="329.3" font-size="5.3" font-family='"Liberation Sans", sans-serif' fill="#111" text-anchor="middle" stroke="#111" stroke-width="0.14">4:1</text>
<line x1="435.13" y1="317.5" x2="435.13" y2="320.8" stroke="#555" stroke-width="0.6"/>
<text x="435.13" y="329.3" font-size="5.3" font-family='"Liberation Sans", sans-serif' fill="#111" text-anchor="middle" stroke="#111" stroke-width="0.14">100:1</text>
<text x="348.65" y="336.8" font-size="5.5" font-family='"Liberation Sans", sans-serif' fill="#111" text-anchor="middle" stroke="#111" stroke-width="0.14">Cost:Benefit Ratio</text>
<clipPath id="clipe"><rect x="254.9" y="190" width="190" height="100.7"/></clipPath>
<g clip-path="url(#clipe)"><g transform="translate(0,0.3)">
<line x1="260.4" y1="283.2" x2="436.9" y2="283.2" stroke="#6a6a6a" stroke-width="0.9"/>
<polyline points="260.4,199.7 261.28,200.76 262.17,201.84 263.05,202.92 263.93,204.02 264.81,205.12 265.69,206.24 266.58,207.37 267.46,208.51 268.34,209.67 269.23,210.83 270.11,212.01 270.99,213.2 271.87,214.41 272.75,215.62 273.64,216.85 274.52,218.1 275.4,219.35 276.29,220.62 277.17,221.91 278.05,223.21 278.93,224.52 279.81,225.85 280.7,227.19 281.58,228.55 282.46,229.92 283.35,231.31 284.23,232.72 285.11,234.14 285.99,235.58 286.88,237.03 287.76,238.51 288.64,240 289.52,241.5 290.41,243.03 291.29,244.57 292.17,246.14 293.05,247.72 293.94,249.32 294.82,250.95 295.7,252.59 296.58,254.25 297.47,255.94 298.35,257.64 299.23,259.37 300.11,261.12 301,262.89 301.88,264.69 302.76,266.51 303.64,268.35 304.53,270.22 305.41,272.11 306.29,274.03 307.17,275.97 308.06,277.95 308.94,279.94 309.82,281.97 310.7,284.03 311.59,286.11 312.47,288.22 313.35,290.37 314.23,292.54 315.12,294.75 316,296.98 316.88,299.25 317.13,299.9" fill="none" stroke="#c8c8c8" stroke-width="0.7" stroke-linejoin="round"/>
<polyline points="260.4,199.7 261.28,200.76 262.17,201.84 263.05,202.92 263.93,204.02 264.81,205.12 265.69,206.24 266.58,207.37 267.46,208.51 268.34,209.67 269.23,210.83 270.11,212.01 270.99,213.2 271.87,214.41 272.75,215.62 273.64,216.85 274.52,218.1 275.4,219.35 276.29,220.62 277.17,221.91 278.05,223.21 278.93,224.52 279.81,225.85 280.7,227.19 281.58,228.55 282.46,229.92 283.35,231.31 284.23,232.72 285.11,234.14 285.99,235.58 286.88,237.03 287.76,238.51 288.64,240 289.52,241.5 290.41,243.03 291.29,244.57 292.17,246.14 293.05,247.72 293.94,249.32 294.82,250.95 295.7,252.59 296.58,254.25 297.47,255.94 298.35,257.64 299.23,259.37 300.11,261.12 301,262.89 301.88,264.69 302.76,266.51 303.64,268.35 304.53,270.22 306.1,273.9 311.2,280.5 313.5,280.2 316.3,282 323.6,281.5 325.1,283.1 359,283.1" fill="none" stroke="#ea8635" stroke-width="0.9" stroke-linejoin="round"/>
<polyline points="260.4,199.7 261.28,200.76 262.17,201.84 263.05,202.92 263.93,204.02 264.81,205.12 265.69,206.24 266.58,207.37 267.46,208.51 268.34,209.67 269.23,210.83 270.11,212.01 270.99,213.2 271.87,214.41 272.75,215.62 273.64,216.85 274.52,218.1 275.4,219.35 276.29,220.62 277.17,221.91 278.05,223.21 278.93,224.52 279.81,225.85 280.7,227.19 281.58,228.55 286.4,230.1 291.5,238.2 306.1,245.5 319.2,252.8 330.9,261.5 340,272.1 345.5,277 347.5,285 348.4,300 353,300 354,285.2 358.4,285.2 359.2,283.3 399.8,283.3" fill="none" stroke="#3b9e3b" stroke-width="0.9" stroke-linejoin="round"/>
<polyline points="260.4,199.9 272.5,215.5 282,229.4 284.2,225.8 286.4,229.1 290,223.6 292.2,227.7 294,228.5 298.8,230.9 301.7,232.6 303.2,244 307.6,245.2 311.2,246.2 315.6,255.7 317,259.3 328,264.5 330.9,263 336,277.6 340,279 343.3,279.8 345.4,278.3 355.3,282.1 356.9,279.4 359.2,282.1 363.8,280.2 367.6,282.1 371.4,283.6 374.5,281.3 379.9,283.3 384.5,286.7 386.8,300 399,300 399.8,279.4 402.8,279.4 404.4,283.3 416.6,283.3" fill="none" stroke="#f02b2b" stroke-width="0.9" stroke-linejoin="round"/>
<polyline points="260.4,199.9 272.5,215.5 274.7,213.4 279.1,212.2 282,213.6 284.9,217.4 287.8,217.4 290,219.2 292.2,225.8 295.9,229.4 301.7,232.6 303.2,236.7 305.4,246.2 307.6,247.7 312.7,251.3 315.6,256.4 320,248.4 322,249.8 325.1,249.6 327.3,254.2 329.5,253 334.6,255.7 337.5,269.6 340,271.4 343.1,269.5 347.7,271.4 350,275.2 352.3,276.8 361.5,280.6 364.5,286 367.6,276 378.3,280.6 387.5,284.4 391.3,287.5 393.6,300 398.2,300 399,282.1 402.8,283.6 405.9,286 408.2,300 415.1,300 415.9,279.4 417.4,279.4 418.9,283.3 435,283.3" fill="none" stroke="#2b2bf0" stroke-width="0.9" stroke-linejoin="round"/>
</g></g>
<rect x="348.1" y="196.5" width="96.1" height="47.9" fill="#fff" stroke="#555" stroke-width="0.7"/>
<line x1="354.1" y1="203.2" x2="365.7" y2="203.2" stroke="#ea8635" stroke-width="0.9"/>
<text x="371.5" y="205.2" font-size="5.5" font-family='"Liberation Sans", sans-serif' fill="#111" stroke="#111" stroke-width="0.14">LIRADS model</text>
<line x1="354.1" y1="210.1" x2="365.7" y2="210.1" stroke="#3b9e3b" stroke-width="0.9"/>
<text x="371.5" y="212.1" font-size="5.5" font-family='"Liberation Sans", sans-serif' fill="#111" stroke="#111" stroke-width="0.14">Clinical-LIRADS model</text>
<line x1="354.1" y1="217" x2="365.7" y2="217" stroke="#f02b2b" stroke-width="0.9"/>
<text x="371.5" y="219" font-size="5.5" font-family='"Liberation Sans", sans-serif' fill="#111" stroke="#111" stroke-width="0.14">Radiomics model</text>
<line x1="354.1" y1="223.9" x2="365.7" y2="223.9" stroke="#2b2bf0" stroke-width="0.9"/>
<text x="371.5" y="225.9" font-size="5.5" font-family='"Liberation Sans", sans-serif' fill="#111" stroke="#111" stroke-width="0.14">Clinical-radiomics model</text>
<line x1="354.1" y1="230.8" x2="365.7" y2="230.8" stroke="#d0d0d0" stroke-width="0.9"/>
<text x="371.5" y="232.8" font-size="5.5" font-family='"Liberation Sans", sans-serif' fill="#111" stroke="#111" stroke-width="0.14">All</text>
<line x1="354.1" y1="237.7" x2="365.7" y2="237.7" stroke="#6a6a6a" stroke-width="0.9"/>
<text x="371.5" y="239.7" font-size="5.5" font-family='"Liberation Sans", sans-serif' fill="#111" stroke="#111" stroke-width="0.14">None</text>
<text x="456.4" y="184.9" font-size="13.8" font-family='"Liberation Sans", sans-serif' fill="#000">f</text>
<line x1="491.7" y1="190.8" x2="491.7" y2="285.8" stroke="#f0f0f0" stroke-width="0.5"/>
<line x1="486.7" y1="278" x2="673.2" y2="278" stroke="#f0f0f0" stroke-width="0.5"/>
<line x1="527" y1="190.8" x2="527" y2="285.8" stroke="#f0f0f0" stroke-width="0.5"/>
<line x1="486.7" y1="261.3" x2="673.2" y2="261.3" stroke="#f0f0f0" stroke-width="0.5"/>
<line x1="562.3" y1="190.8" x2="562.3" y2="285.8" stroke="#f0f0f0" stroke-width="0.5"/>
<line x1="486.7" y1="244.6" x2="673.2" y2="244.6" stroke="#f0f0f0" stroke-width="0.5"/>
<line x1="597.6" y1="190.8" x2="597.6" y2="285.8" stroke="#f0f0f0" stroke-width="0.5"/>
<line x1="486.7" y1="227.9" x2="673.2" y2="227.9" stroke="#f0f0f0" stroke-width="0.5"/>
<line x1="632.9" y1="190.8" x2="632.9" y2="285.8" stroke="#f0f0f0" stroke-width="0.5"/>
<line x1="486.7" y1="211.2" x2="673.2" y2="211.2" stroke="#f0f0f0" stroke-width="0.5"/>
<line x1="668.2" y1="190.8" x2="668.2" y2="285.8" stroke="#f0f0f0" stroke-width="0.5"/>
<line x1="486.7" y1="194.5" x2="673.2" y2="194.5" stroke="#f0f0f0" stroke-width="0.5"/>
<line x1="484.8" y1="278" x2="484.8" y2="194.5" stroke="#555" stroke-width="0.6"/>
<line x1="481.6" y1="278" x2="484.8" y2="278" stroke="#555" stroke-width="0.6"/>
<text x="476.6" y="278" font-size="5.3" font-family='"Liberation Sans", sans-serif' fill="#111" text-anchor="middle" transform="rotate(-90 476.6 278)" stroke="#111" stroke-width="0.14">0.0</text>
<line x1="481.6" y1="261.3" x2="484.8" y2="261.3" stroke="#555" stroke-width="0.6"/>
<text x="476.6" y="261.3" font-size="5.3" font-family='"Liberation Sans", sans-serif' fill="#111" text-anchor="middle" transform="rotate(-90 476.6 261.3)" stroke="#111" stroke-width="0.14">0.2</text>
<line x1="481.6" y1="244.6" x2="484.8" y2="244.6" stroke="#555" stroke-width="0.6"/>
<text x="476.6" y="244.6" font-size="5.3" font-family='"Liberation Sans", sans-serif' fill="#111" text-anchor="middle" transform="rotate(-90 476.6 244.6)" stroke="#111" stroke-width="0.14">0.4</text>
<line x1="481.6" y1="227.9" x2="484.8" y2="227.9" stroke="#555" stroke-width="0.6"/>
<text x="476.6" y="227.9" font-size="5.3" font-family='"Liberation Sans", sans-serif' fill="#111" text-anchor="middle" transform="rotate(-90 476.6 227.9)" stroke="#111" stroke-width="0.14">0.6</text>
<line x1="481.6" y1="211.2" x2="484.8" y2="211.2" stroke="#555" stroke-width="0.6"/>
<text x="476.6" y="211.2" font-size="5.3" font-family='"Liberation Sans", sans-serif' fill="#111" text-anchor="middle" transform="rotate(-90 476.6 211.2)" stroke="#111" stroke-width="0.14">0.8</text>
<line x1="481.6" y1="194.5" x2="484.8" y2="194.5" stroke="#555" stroke-width="0.6"/>
<text x="476.6" y="194.5" font-size="5.3" font-family='"Liberation Sans", sans-serif' fill="#111" text-anchor="middle" transform="rotate(-90 476.6 194.5)" stroke="#111" stroke-width="0.14">1.0</text>
<text x="463.5" y="238" font-size="5.5" font-family='"Liberation Sans", sans-serif' fill="#111" text-anchor="middle" transform="rotate(-90 463.5 238)" stroke="#111" stroke-width="0.14">Standardized Net Benefit</text>
<line x1="491.7" y1="286.1" x2="668.2" y2="286.1" stroke="#555" stroke-width="0.6"/>
<line x1="491.7" y1="286.1" x2="491.7" y2="289.4" stroke="#555" stroke-width="0.6"/>
<text x="491.7" y="298.1" font-size="5.3" font-family='"Liberation Sans", sans-serif' fill="#111" text-anchor="middle" stroke="#111" stroke-width="0.14">0.0</text>
<line x1="527" y1="286.1" x2="527" y2="289.4" stroke="#555" stroke-width="0.6"/>
<text x="527" y="298.1" font-size="5.3" font-family='"Liberation Sans", sans-serif' fill="#111" text-anchor="middle" stroke="#111" stroke-width="0.14">0.2</text>
<line x1="562.3" y1="286.1" x2="562.3" y2="289.4" stroke="#555" stroke-width="0.6"/>
<text x="562.3" y="298.1" font-size="5.3" font-family='"Liberation Sans", sans-serif' fill="#111" text-anchor="middle" stroke="#111" stroke-width="0.14">0.4</text>
<line x1="597.6" y1="286.1" x2="597.6" y2="289.4" stroke="#555" stroke-width="0.6"/>
<text x="597.6" y="298.1" font-size="5.3" font-family='"Liberation Sans", sans-serif' fill="#111" text-anchor="middle" stroke="#111" stroke-width="0.14">0.6</text>
<line x1="632.9" y1="286.1" x2="632.9" y2="289.4" stroke="#555" stroke-width="0.6"/>
<text x="632.9" y="298.1" font-size="5.3" font-family='"Liberation Sans", sans-serif' fill="#111" text-anchor="middle" stroke="#111" stroke-width="0.14">0.8</text>
<line x1="668.2" y1="286.1" x2="668.2" y2="289.4" stroke="#555" stroke-width="0.6"/>
<text x="668.2" y="298.1" font-size="5.3" font-family='"Liberation Sans", sans-serif' fill="#111" text-anchor="middle" stroke="#111" stroke-width="0.14">1.0</text>
<text x="579.95" y="305.7" font-size="5.5" font-family='"Liberation Sans", sans-serif' fill="#111" text-anchor="middle" stroke="#111" stroke-width="0.14">High Risk Threshold</text>
<line x1="493.46" y1="312.3" x2="666.43" y2="312.3" stroke="#555" stroke-width="0.6"/>
<line x1="493.46" y1="312.3" x2="493.46" y2="315.6" stroke="#555" stroke-width="0.6"/>
<text x="493.46" y="324.1" font-size="5.3" font-family='"Liberation Sans", sans-serif' fill="#111" text-anchor="middle" stroke="#111" stroke-width="0.14">1:100</text>
<line x1="527" y1="312.3" x2="527" y2="315.6" stroke="#555" stroke-width="0.6"/>
<text x="527" y="324.1" font-size="5.3" font-family='"Liberation Sans", sans-serif' fill="#111" text-anchor="middle" stroke="#111" stroke-width="0.14">1:4</text>
<line x1="562.3" y1="312.3" x2="562.3" y2="315.6" stroke="#555" stroke-width="0.6"/>
<text x="562.3" y="324.1" font-size="5.3" font-family='"Liberation Sans", sans-serif' fill="#111" text-anchor="middle" stroke="#111" stroke-width="0.14">2:3</text>
<line x1="597.6" y1="312.3" x2="597.6" y2="315.6" stroke="#555" stroke-width="0.6"/>
<text x="597.6" y="324.1" font-size="5.3" font-family='"Liberation Sans", sans-serif' fill="#111" text-anchor="middle" stroke="#111" stroke-width="0.14">3:2</text>
<line x1="632.9" y1="312.3" x2="632.9" y2="315.6" stroke="#555" stroke-width="0.6"/>
<text x="632.9" y="324.1" font-size="5.3" font-family='"Liberation Sans", sans-serif' fill="#111" text-anchor="middle" stroke="#111" stroke-width="0.14">4:1</text>
<line x1="666.43" y1="312.3" x2="666.43" y2="315.6" stroke="#555" stroke-width="0.6"/>
<text x="666.43" y="324.1" font-size="5.3" font-family='"Liberation Sans", sans-serif' fill="#111" text-anchor="middle" stroke="#111" stroke-width="0.14">100:1</text>
<text x="579.95" y="331.6" font-size="5.5" font-family='"Liberation Sans", sans-serif' fill="#111" text-anchor="middle" stroke="#111" stroke-width="0.14">Cost:Benefit Ratio</text>
<clipPath id="clipf"><rect x="486.2" y="184.8" width="190" height="100.7"/></clipPath>
<g clip-path="url(#clipf)"><g transform="translate(0,0.1)">
<line x1="491.7" y1="278" x2="668.2" y2="278" stroke="#6a6a6a" stroke-width="0.9"/>
<polyline points="491.7,194.5 492.58,196.56 493.46,198.65 494.35,200.75 495.23,202.88 496.11,205.03 497,207.2 497.88,209.39 498.76,211.61 499.64,213.85 500.52,216.11 501.41,218.4 502.29,220.71 503.17,223.04 504.06,225.4 504.94,227.79 505.82,230.2 506.7,232.64 507.58,235.11 508.47,237.6 509.35,240.12 510.23,242.67 511.12,245.25 512,247.85 512.88,250.49 513.76,253.15 514.64,255.85 515.53,258.58 516.41,261.34 517.29,264.13 518.17,266.96 519.06,269.81 519.94,272.71 520.82,275.63 521.71,278.6 522.59,281.59 523.47,284.63 524.35,287.7 525.24,290.81 526.12,293.96 526.32,294.7" fill="none" stroke="#c8c8c8" stroke-width="0.7" stroke-linejoin="round"/>
<polyline points="491.7,194.5 497.2,207.6 501.9,220 507.7,235.4 510.7,243.4 516.5,260.9 520.1,272.6 522.3,272.3 523.5,275 525.5,281.4 527.4,278 565.4,278" fill="none" stroke="#ea8635" stroke-width="0.9" stroke-linejoin="round"/>
<polyline points="491.7,194.5 497.2,207.6 501.9,220 506.3,224.4 509.9,247.8 511.4,250 513.6,244.1 516,244.5 537.7,262.4 539.9,258.7 546.4,265.3 548.6,294.8 555.2,294.8 557.4,261.2 563.9,261.2 566.9,278 596.4,278" fill="none" stroke="#3b9e3b" stroke-width="0.9" stroke-linejoin="round"/>
<polyline points="491.7,194.5 497.2,207.6 501.9,220 506.3,233.9 507.7,229.5 511.4,231.7 513.3,227.3 515,229 516.5,241.2 520.1,242.7 521.5,241.5 523.8,259.5 547.9,275.5 553.7,253.3 580,261.1 582,244.5 592.7,244.5 596.4,278.2 620.6,278.2" fill="none" stroke="#f02b2b" stroke-width="0.9" stroke-linejoin="round"/>
<polyline points="491.7,194.5 497.2,207.6 498.7,220 500.4,218.6 506.3,221.5 509.9,218.6 546.4,241.2 550,228.1 553,228.8 555.6,220.3 564.4,222.7 566.9,240.2 572.7,241.9 574.9,259.2 580,261.1 585.3,263.4 594.5,267.5 602.2,272.6 611.7,279.4 613.7,244.5 617.2,244.5 620.6,278.2 666.9,278.2" fill="none" stroke="#2b2bf0" stroke-width="0.9" stroke-linejoin="round"/>
</g></g>
<rect x="579.4" y="191.3" width="96.1" height="47.9" fill="#fff" stroke="#555" stroke-width="0.7"/>
<line x1="585.4" y1="198" x2="597" y2="198" stroke="#ea8635" stroke-width="0.9"/>
<text x="602.8" y="200" font-size="5.5" font-family='"Liberation Sans", sans-serif' fill="#111" stroke="#111" stroke-width="0.14">LIRADS model</text>
<line x1="585.4" y1="204.9" x2="597" y2="204.9" stroke="#3b9e3b" stroke-width="0.9"/>
<text x="602.8" y="206.9" font-size="5.5" font-family='"Liberation Sans", sans-serif' fill="#111" stroke="#111" stroke-width="0.14">Clinical-LIRADS model</text>
<line x1="585.4" y1="211.8" x2="597" y2="211.8" stroke="#f02b2b" stroke-width="0.9"/>
<text x="602.8" y="213.8" font-size="5.5" font-family='"Liberation Sans", sans-serif' fill="#111" stroke="#111" stroke-width="0.14">Radiomics model</text>
<line x1="585.4" y1="218.7" x2="597" y2="218.7" stroke="#2b2bf0" stroke-width="0.9"/>
<text x="602.8" y="220.7" font-size="5.5" font-family='"Liberation Sans", sans-serif' fill="#111" stroke="#111" stroke-width="0.14">Clinical-radiomics model</text>
<line x1="585.4" y1="225.6" x2="597" y2="225.6" stroke="#d0d0d0" stroke-width="0.9"/>
<text x="602.8" y="227.6" font-size="5.5" font-family='"Liberation Sans", sans-serif' fill="#111" stroke="#111" stroke-width="0.14">All</text>
<line x1="585.4" y1="232.5" x2="597" y2="232.5" stroke="#6a6a6a" stroke-width="0.9"/>
<text x="602.8" y="234.5" font-size="5.5" font-family='"Liberation Sans", sans-serif' fill="#111" stroke="#111" stroke-width="0.14">None</text>
<text x="8.4" y="374.6" font-size="13.2" font-family='"Liberation Sans", sans-serif' fill="#000">g</text>
<text x="92" y="378.2" font-size="5.85" font-family='"Liberation Sans", sans-serif' fill="#111" text-anchor="middle" font-weight="bold" stroke="#111" stroke-width="0.1">Calibration Curve of LIRADS model</text>
<rect x="23.1" y="387.7" width="137.8" height="120.3" fill="none" stroke="#666" stroke-width="0.6"/>
<line x1="28" y1="508" x2="28" y2="510.4" stroke="#555" stroke-width="0.5"/>
<text x="28" y="518.8" font-size="5" font-family='"Liberation Sans", sans-serif' fill="#222" text-anchor="middle" stroke="#222" stroke-width="0.12">0.0</text>
<line x1="20.8" y1="503.6" x2="23.1" y2="503.6" stroke="#555" stroke-width="0.5"/>
<text x="17.1" y="503.6" font-size="5" font-family='"Liberation Sans", sans-serif' fill="#222" text-anchor="middle" transform="rotate(-90 17.1 503.6)" stroke="#222" stroke-width="0.12">0.0</text>
<line x1="53.52" y1="508" x2="53.52" y2="510.4" stroke="#555" stroke-width="0.5"/>
<text x="53.52" y="518.8" font-size="5" font-family='"Liberation Sans", sans-serif' fill="#222" text-anchor="middle" stroke="#222" stroke-width="0.12">0.2</text>
<line x1="20.8" y1="481.36" x2="23.1" y2="481.36" stroke="#555" stroke-width="0.5"/>
<text x="17.1" y="481.36" font-size="5" font-family='"Liberation Sans", sans-serif' fill="#222" text-anchor="middle" transform="rotate(-90 17.1 481.36)" stroke="#222" stroke-width="0.12">0.2</text>
<line x1="79.04" y1="508" x2="79.04" y2="510.4" stroke="#555" stroke-width="0.5"/>
<text x="79.04" y="518.8" font-size="5" font-family='"Liberation Sans", sans-serif' fill="#222" text-anchor="middle" stroke="#222" stroke-width="0.12">0.4</text>
<line x1="20.8" y1="459.12" x2="23.1" y2="459.12" stroke="#555" stroke-width="0.5"/>
<text x="17.1" y="459.12" font-size="5" font-family='"Liberation Sans", sans-serif' fill="#222" text-anchor="middle" transform="rotate(-90 17.1 459.12)" stroke="#222" stroke-width="0.12">0.4</text>
<line x1="104.56" y1="508" x2="104.56" y2="510.4" stroke="#555" stroke-width="0.5"/>
<text x="104.56" y="518.8" font-size="5" font-family='"Liberation Sans", sans-serif' fill="#222" text-anchor="middle" stroke="#222" stroke-width="0.12">0.6</text>
<line x1="20.8" y1="436.88" x2="23.1" y2="436.88" stroke="#555" stroke-width="0.5"/>
<text x="17.1" y="436.88" font-size="5" font-family='"Liberation Sans", sans-serif' fill="#222" text-anchor="middle" transform="rotate(-90 17.1 436.88)" stroke="#222" stroke-width="0.12">0.6</text>
<line x1="130.08" y1="508" x2="130.08" y2="510.4" stroke="#555" stroke-width="0.5"/>
<text x="130.08" y="518.8" font-size="5" font-family='"Liberation Sans", sans-serif' fill="#222" text-anchor="middle" stroke="#222" stroke-width="0.12">0.8</text>
<line x1="20.8" y1="414.64" x2="23.1" y2="414.64" stroke="#555" stroke-width="0.5"/>
<text x="17.1" y="414.64" font-size="5" font-family='"Liberation Sans", sans-serif' fill="#222" text-anchor="middle" transform="rotate(-90 17.1 414.64)" stroke="#222" stroke-width="0.12">0.8</text>
<line x1="155.6" y1="508" x2="155.6" y2="510.4" stroke="#555" stroke-width="0.5"/>
<text x="155.6" y="518.8" font-size="5" font-family='"Liberation Sans", sans-serif' fill="#222" text-anchor="middle" stroke="#222" stroke-width="0.12">1.0</text>
<line x1="20.8" y1="392.4" x2="23.1" y2="392.4" stroke="#555" stroke-width="0.5"/>
<text x="17.1" y="392.4" font-size="5" font-family='"Liberation Sans", sans-serif' fill="#222" text-anchor="middle" transform="rotate(-90 17.1 392.4)" stroke="#222" stroke-width="0.12">1.0</text>
<text x="92" y="530.3" font-size="4.9" font-family='"Liberation Sans", sans-serif' fill="#222" text-anchor="middle" stroke="#222" stroke-width="0.12">Predicted probability</text>
<text x="4.8" y="448.3" font-size="4.95" font-family='"Liberation Sans", sans-serif' fill="#222" text-anchor="middle" transform="rotate(-90 4.8 448.3)" stroke="#222" stroke-width="0.12">Actual risk of VETC/MTM subtype</text>
<line x1="25.45" y1="505.82" x2="160.7" y2="387.95" stroke="#b0b0b0" stroke-width="0.8" stroke-dasharray="3.2,2.4"/>
<path d="M28,503.6 C37.57,499.87 66.15,488.72 85.42,481.19 C104.69,473.67 133.91,462.24 143.61,458.45" fill="none" stroke="#ff3030" stroke-width="1.3" stroke-linecap="round"/>
<path d="M28,506.6 C32.13,504.38 45.95,497.85 52.75,493.26 C59.56,488.66 63.75,482.94 68.83,479.02 C73.91,475.11 79.83,471.57 83.25,469.8 C86.67,468.02 85.29,468.79 89.38,468.35 C93.46,467.9 101.26,468.09 107.75,467.13 C114.24,466.16 122.32,464.35 128.29,462.57 C134.27,460.79 141.05,457.47 143.61,456.45" fill="none" stroke="#30a030" stroke-width="1.3" stroke-linecap="round"/>
<path d="M28,433.99 C30.38,437.4 38.17,448.98 42.29,454.45 C46.42,459.92 49.31,463.55 52.75,466.79 C56.2,470.04 59.75,472.45 62.96,473.91 C66.17,475.37 68.96,475.76 72.02,475.58 C75.08,475.39 77.74,473.95 81.34,472.8 C84.93,471.65 88.82,469.7 93.59,468.68 C98.35,467.66 104.13,467.42 109.92,466.68 C115.7,465.94 122.68,465 128.29,464.24 C133.91,463.48 141.05,462.47 143.61,462.12" fill="none" stroke="#3030ff" stroke-width="1.3" stroke-linecap="round"/>
<line x1="121.2" y1="482.8" x2="128.4" y2="482.8" stroke="#ff3030" stroke-width="1.1"/>
<text x="131.7" y="484.25" font-size="3.9" font-family='"Liberation Sans", sans-serif' fill="#ff3030" font-weight="bold" stroke="#ff3030" stroke-width="0.12">Training set</text>
<line x1="121.2" y1="489.1" x2="128.4" y2="489.1" stroke="#3030ff" stroke-width="1.1"/>
<text x="131.7" y="490.55" font-size="3.9" font-family='"Liberation Sans", sans-serif' fill="#3030ff" font-weight="bold" stroke="#3030ff" stroke-width="0.12">Validation set1</text>
<line x1="121.2" y1="495.4" x2="128.4" y2="495.4" stroke="#30a030" stroke-width="1.1"/>
<text x="131.7" y="496.85" font-size="3.9" font-family='"Liberation Sans", sans-serif' fill="#30a030" font-weight="bold" stroke="#30a030" stroke-width="0.12">Validation set2</text>
<line x1="121.2" y1="501.7" x2="128.4" y2="501.7" stroke="#cfcfcf" stroke-width="0.8" stroke-dasharray="2.5,2"/>
<text x="131.7" y="503.15" font-size="3.9" font-family='"Liberation Sans", sans-serif' fill="#cfcfcf" font-weight="bold" stroke="#cfcfcf" stroke-width="0.12">Ideal</text>
<text x="183.4" y="374.7" font-size="13.2" font-family='"Liberation Sans", sans-serif' fill="#000">h</text>
<text x="267.3" y="378.2" font-size="5.85" font-family='"Liberation Sans", sans-serif' fill="#111" text-anchor="middle" font-weight="bold" stroke="#111" stroke-width="0.1">Calibration Curve of Clinical-LIRADS model</text>
<rect x="198.4" y="387.7" width="137.8" height="120.3" fill="none" stroke="#666" stroke-width="0.6"/>
<line x1="203.3" y1="508" x2="203.3" y2="510.4" stroke="#555" stroke-width="0.5"/>
<text x="203.3" y="518.8" font-size="5" font-family='"Liberation Sans", sans-serif' fill="#222" text-anchor="middle" stroke="#222" stroke-width="0.12">0.0</text>
<line x1="196.1" y1="503.6" x2="198.4" y2="503.6" stroke="#555" stroke-width="0.5"/>
<text x="192.4" y="503.6" font-size="5" font-family='"Liberation Sans", sans-serif' fill="#222" text-anchor="middle" transform="rotate(-90 192.4 503.6)" stroke="#222" stroke-width="0.12">0.0</text>
<line x1="228.82" y1="508" x2="228.82" y2="510.4" stroke="#555" stroke-width="0.5"/>
<text x="228.82" y="518.8" font-size="5" font-family='"Liberation Sans", sans-serif' fill="#222" text-anchor="middle" stroke="#222" stroke-width="0.12">0.2</text>
<line x1="196.1" y1="481.36" x2="198.4" y2="481.36" stroke="#555" stroke-width="0.5"/>
<text x="192.4" y="481.36" font-size="5" font-family='"Liberation Sans", sans-serif' fill="#222" text-anchor="middle" transform="rotate(-90 192.4 481.36)" stroke="#222" stroke-width="0.12">0.2</text>
<line x1="254.34" y1="508" x2="254.34" y2="510.4" stroke="#555" stroke-width="0.5"/>
<text x="254.34" y="518.8" font-size="5" font-family='"Liberation Sans", sans-serif' fill="#222" text-anchor="middle" stroke="#222" stroke-width="0.12">0.4</text>
<line x1="196.1" y1="459.12" x2="198.4" y2="459.12" stroke="#555" stroke-width="0.5"/>
<text x="192.4" y="459.12" font-size="5" font-family='"Liberation Sans", sans-serif' fill="#222" text-anchor="middle" transform="rotate(-90 192.4 459.12)" stroke="#222" stroke-width="0.12">0.4</text>
<line x1="279.86" y1="508" x2="279.86" y2="510.4" stroke="#555" stroke-width="0.5"/>
<text x="279.86" y="518.8" font-size="5" font-family='"Liberation Sans", sans-serif' fill="#222" text-anchor="middle" stroke="#222" stroke-width="0.12">0.6</text>
<line x1="196.1" y1="436.88" x2="198.4" y2="436.88" stroke="#555" stroke-width="0.5"/>
<text x="192.4" y="436.88" font-size="5" font-family='"Liberation Sans", sans-serif' fill="#222" text-anchor="middle" transform="rotate(-90 192.4 436.88)" stroke="#222" stroke-width="0.12">0.6</text>
<line x1="305.38" y1="508" x2="305.38" y2="510.4" stroke="#555" stroke-width="0.5"/>
<text x="305.38" y="518.8" font-size="5" font-family='"Liberation Sans", sans-serif' fill="#222" text-anchor="middle" stroke="#222" stroke-width="0.12">0.8</text>
<line x1="196.1" y1="414.64" x2="198.4" y2="414.64" stroke="#555" stroke-width="0.5"/>
<text x="192.4" y="414.64" font-size="5" font-family='"Liberation Sans", sans-serif' fill="#222" text-anchor="middle" transform="rotate(-90 192.4 414.64)" stroke="#222" stroke-width="0.12">0.8</text>
<line x1="330.9" y1="508" x2="330.9" y2="510.4" stroke="#555" stroke-width="0.5"/>
<text x="330.9" y="518.8" font-size="5" font-family='"Liberation Sans", sans-serif' fill="#222" text-anchor="middle" stroke="#222" stroke-width="0.12">1.0</text>
<line x1="196.1" y1="392.4" x2="198.4" y2="392.4" stroke="#555" stroke-width="0.5"/>
<text x="192.4" y="392.4" font-size="5" font-family='"Liberation Sans", sans-serif' fill="#222" text-anchor="middle" transform="rotate(-90 192.4 392.4)" stroke="#222" stroke-width="0.12">1.0</text>
<text x="267.3" y="530.3" font-size="4.9" font-family='"Liberation Sans", sans-serif' fill="#222" text-anchor="middle" stroke="#222" stroke-width="0.12">Predicted probability</text>
<text x="180.1" y="448.3" font-size="4.95" font-family='"Liberation Sans", sans-serif' fill="#222" text-anchor="middle" transform="rotate(-90 180.1 448.3)" stroke="#222" stroke-width="0.12">Actual risk of VETC/MTM subtype</text>
<line x1="200.75" y1="505.82" x2="336" y2="387.95" stroke="#b0b0b0" stroke-width="0.8" stroke-dasharray="3.2,2.4"/>
<path d="M203.3,506.6 C207.7,503.88 222.59,493.91 229.71,490.26 C236.84,486.6 240.24,487.61 246.05,484.7 C251.85,481.79 258.06,477.86 264.55,472.8 C271.03,467.74 277.14,460.64 284.96,454.34 C292.79,448.04 307.08,438.21 311.5,434.99" fill="none" stroke="#ff3030" stroke-width="1.3" stroke-linecap="round"/>
<path d="M203.3,499.04 C205.64,499.1 212.66,499.84 217.34,499.37 C222.01,498.91 226.76,497.56 231.37,496.26 C235.99,494.96 241.2,493.8 245.03,491.59 C248.85,489.38 250.09,486.66 254.34,483.03 C258.59,479.4 264.8,474.58 270.55,469.8 C276.29,465.01 281.97,459.82 288.79,454.34 C295.62,448.85 307.72,439.79 311.5,436.88" fill="none" stroke="#30a030" stroke-width="1.3" stroke-linecap="round"/>
<path d="M203.3,480.03 C204.36,480.12 206.92,481.01 209.68,480.58 C212.44,480.16 216.49,479.1 219.89,477.47 C223.29,475.84 226.06,474.6 230.1,470.8 C234.14,467 239.45,459.27 244.13,454.67 C248.81,450.08 252.43,446.5 258.17,443.22 C263.91,439.94 272.74,436.62 278.58,434.99 C284.43,433.36 287.77,433.36 293.26,433.43 C298.74,433.51 308.46,435.1 311.5,435.43" fill="none" stroke="#3030ff" stroke-width="1.3" stroke-linecap="round"/>
<line x1="296.5" y1="482.8" x2="303.7" y2="482.8" stroke="#ff3030" stroke-width="1.1"/>
<text x="307" y="484.25" font-size="3.9" font-family='"Liberation Sans", sans-serif' fill="#ff3030" font-weight="bold" stroke="#ff3030" stroke-width="0.12">Training set</text>
<line x1="296.5" y1="489.1" x2="303.7" y2="489.1" stroke="#3030ff" stroke-width="1.1"/>
<text x="307" y="490.55" font-size="3.9" font-family='"Liberation Sans", sans-serif' fill="#3030ff" font-weight="bold" stroke="#3030ff" stroke-width="0.12">Validation set1</text>
<line x1="296.5" y1="495.4" x2="303.7" y2="495.4" stroke="#30a030" stroke-width="1.1"/>
<text x="307" y="496.85" font-size="3.9" font-family='"Liberation Sans", sans-serif' fill="#30a030" font-weight="bold" stroke="#30a030" stroke-width="0.12">Validation set2</text>
<line x1="296.5" y1="501.7" x2="303.7" y2="501.7" stroke="#cfcfcf" stroke-width="0.8" stroke-dasharray="2.5,2"/>
<text x="307" y="503.15" font-size="3.9" font-family='"Liberation Sans", sans-serif' fill="#cfcfcf" font-weight="bold" stroke="#cfcfcf" stroke-width="0.12">Ideal</text>
<text x="359.7" y="370.6" font-size="13.2" font-family='"Liberation Sans", sans-serif' fill="#000">i</text>
<text x="443.5" y="378.2" font-size="5.85" font-family='"Liberation Sans", sans-serif' fill="#111" text-anchor="middle" font-weight="bold" stroke="#111" stroke-width="0.1">Calibration Curve of Radiomics model</text>
<rect x="374.6" y="387.7" width="137.8" height="120.3" fill="none" stroke="#666" stroke-width="0.6"/>
<line x1="379.5" y1="508" x2="379.5" y2="510.4" stroke="#555" stroke-width="0.5"/>
<text x="379.5" y="518.8" font-size="5" font-family='"Liberation Sans", sans-serif' fill="#222" text-anchor="middle" stroke="#222" stroke-width="0.12">0.0</text>
<line x1="372.3" y1="503.6" x2="374.6" y2="503.6" stroke="#555" stroke-width="0.5"/>
<text x="368.6" y="503.6" font-size="5" font-family='"Liberation Sans", sans-serif' fill="#222" text-anchor="middle" transform="rotate(-90 368.6 503.6)" stroke="#222" stroke-width="0.12">0.0</text>
<line x1="405.02" y1="508" x2="405.02" y2="510.4" stroke="#555" stroke-width="0.5"/>
<text x="405.02" y="518.8" font-size="5" font-family='"Liberation Sans", sans-serif' fill="#222" text-anchor="middle" stroke="#222" stroke-width="0.12">0.2</text>
<line x1="372.3" y1="481.36" x2="374.6" y2="481.36" stroke="#555" stroke-width="0.5"/>
<text x="368.6" y="481.36" font-size="5" font-family='"Liberation Sans", sans-serif' fill="#222" text-anchor="middle" transform="rotate(-90 368.6 481.36)" stroke="#222" stroke-width="0.12">0.2</text>
<line x1="430.54" y1="508" x2="430.54" y2="510.4" stroke="#555" stroke-width="0.5"/>
<text x="430.54" y="518.8" font-size="5" font-family='"Liberation Sans", sans-serif' fill="#222" text-anchor="middle" stroke="#222" stroke-width="0.12">0.4</text>
<line x1="372.3" y1="459.12" x2="374.6" y2="459.12" stroke="#555" stroke-width="0.5"/>
<text x="368.6" y="459.12" font-size="5" font-family='"Liberation Sans", sans-serif' fill="#222" text-anchor="middle" transform="rotate(-90 368.6 459.12)" stroke="#222" stroke-width="0.12">0.4</text>
<line x1="456.06" y1="508" x2="456.06" y2="510.4" stroke="#555" stroke-width="0.5"/>
<text x="456.06" y="518.8" font-size="5" font-family='"Liberation Sans", sans-serif' fill="#222" text-anchor="middle" stroke="#222" stroke-width="0.12">0.6</text>
<line x1="372.3" y1="436.88" x2="374.6" y2="436.88" stroke="#555" stroke-width="0.5"/>
<text x="368.6" y="436.88" font-size="5" font-family='"Liberation Sans", sans-serif' fill="#222" text-anchor="middle" transform="rotate(-90 368.6 436.88)" stroke="#222" stroke-width="0.12">0.6</text>
<line x1="481.58" y1="508" x2="481.58" y2="510.4" stroke="#555" stroke-width="0.5"/>
<text x="481.58" y="518.8" font-size="5" font-family='"Liberation Sans", sans-serif' fill="#222" text-anchor="middle" stroke="#222" stroke-width="0.12">0.8</text>
<line x1="372.3" y1="414.64" x2="374.6" y2="414.64" stroke="#555" stroke-width="0.5"/>
<text x="368.6" y="414.64" font-size="5" font-family='"Liberation Sans", sans-serif' fill="#222" text-anchor="middle" transform="rotate(-90 368.6 414.64)" stroke="#222" stroke-width="0.12">0.8</text>
<line x1="507.1" y1="508" x2="507.1" y2="510.4" stroke="#555" stroke-width="0.5"/>
<text x="507.1" y="518.8" font-size="5" font-family='"Liberation Sans", sans-serif' fill="#222" text-anchor="middle" stroke="#222" stroke-width="0.12">1.0</text>
<line x1="372.3" y1="392.4" x2="374.6" y2="392.4" stroke="#555" stroke-width="0.5"/>
<text x="368.6" y="392.4" font-size="5" font-family='"Liberation Sans", sans-serif' fill="#222" text-anchor="middle" transform="rotate(-90 368.6 392.4)" stroke="#222" stroke-width="0.12">1.0</text>
<text x="443.5" y="530.3" font-size="4.9" font-family='"Liberation Sans", sans-serif' fill="#222" text-anchor="middle" stroke="#222" stroke-width="0.12">Predicted probability</text>
<text x="356.3" y="448.3" font-size="4.95" font-family='"Liberation Sans", sans-serif' fill="#222" text-anchor="middle" transform="rotate(-90 356.3 448.3)" stroke="#222" stroke-width="0.12">Actual risk of VETC/MTM subtype</text>
<line x1="376.95" y1="505.82" x2="512.2" y2="387.95" stroke="#b0b0b0" stroke-width="0.8" stroke-dasharray="3.2,2.4"/>
<path d="M381.54,506.49 C387.79,502.95 408.55,491.94 419.06,485.25 C429.56,478.56 435.86,472.93 444.58,466.35 C453.3,459.77 462.7,453.28 471.37,445.78 C480.05,438.27 492.43,425.39 496.64,421.31" fill="none" stroke="#ff3030" stroke-width="1.3" stroke-linecap="round"/>
<path d="M381.16,498.82 C383.01,497.58 388.71,494.65 392.26,491.37 C395.81,488.09 399.07,484.33 402.47,479.14 C405.87,473.95 410.12,464.03 412.68,460.23 C415.23,456.43 416.08,457.17 417.78,456.34 C419.48,455.51 420.76,453.84 422.88,455.23 C425.01,456.62 427.56,462.51 430.54,464.68 C433.52,466.85 437.35,467.87 440.75,468.24 C444.15,468.61 447.55,468.24 450.96,466.9 C454.36,465.57 457.97,463.38 461.16,460.23 C464.35,457.08 467.54,452.08 470.1,448 C472.65,443.92 475.41,437.81 476.48,435.77" fill="none" stroke="#30a030" stroke-width="1.3" stroke-linecap="round"/>
<path d="M382.05,506.49 C383.75,502.67 388.22,491.29 392.26,483.58 C396.3,475.87 402.26,465.98 406.3,460.23 C410.34,454.49 413.53,451.61 416.5,449.11 C419.48,446.61 421.18,445.96 424.16,445.22 C427.14,444.48 429.69,445.16 434.37,444.66 C439.05,444.16 446.06,443.11 452.23,442.22 C458.4,441.33 464.57,440.4 471.37,439.33 C478.18,438.25 489.45,436.36 493.06,435.77" fill="none" stroke="#3030ff" stroke-width="1.3" stroke-linecap="round"/>
<line x1="472.7" y1="482.8" x2="479.9" y2="482.8" stroke="#ff3030" stroke-width="1.1"/>
<text x="483.2" y="484.25" font-size="3.9" font-family='"Liberation Sans", sans-serif' fill="#ff3030" font-weight="bold" stroke="#ff3030" stroke-width="0.12">Training set</text>
<line x1="472.7" y1="489.1" x2="479.9" y2="489.1" stroke="#3030ff" stroke-width="1.1"/>
<text x="483.2" y="490.55" font-size="3.9" font-family='"Liberation Sans", sans-serif' fill="#3030ff" font-weight="bold" stroke="#3030ff" stroke-width="0.12">Validation set1</text>
<line x1="472.7" y1="495.4" x2="479.9" y2="495.4" stroke="#30a030" stroke-width="1.1"/>
<text x="483.2" y="496.85" font-size="3.9" font-family='"Liberation Sans", sans-serif' fill="#30a030" font-weight="bold" stroke="#30a030" stroke-width="0.12">Validation set2</text>
<line x1="472.7" y1="501.7" x2="479.9" y2="501.7" stroke="#cfcfcf" stroke-width="0.8" stroke-dasharray="2.5,2"/>
<text x="483.2" y="503.15" font-size="3.9" font-family='"Liberation Sans", sans-serif' fill="#cfcfcf" font-weight="bold" stroke="#cfcfcf" stroke-width="0.12">Ideal</text>
<text x="530.8" y="370.5" font-size="13.2" font-family='"Liberation Sans", sans-serif' fill="#000">j</text>
<text x="615.2" y="378.2" font-size="5.85" font-family='"Liberation Sans", sans-serif' fill="#111" text-anchor="middle" font-weight="bold" stroke="#111" stroke-width="0.1">Calibration Curve of Clinical-radiomics model</text>
<rect x="546.3" y="387.7" width="137.8" height="120.3" fill="none" stroke="#666" stroke-width="0.6"/>
<line x1="551.2" y1="508" x2="551.2" y2="510.4" stroke="#555" stroke-width="0.5"/>
<text x="551.2" y="518.8" font-size="5" font-family='"Liberation Sans", sans-serif' fill="#222" text-anchor="middle" stroke="#222" stroke-width="0.12">0.0</text>
<line x1="544" y1="503.6" x2="546.3" y2="503.6" stroke="#555" stroke-width="0.5"/>
<text x="540.3" y="503.6" font-size="5" font-family='"Liberation Sans", sans-serif' fill="#222" text-anchor="middle" transform="rotate(-90 540.3 503.6)" stroke="#222" stroke-width="0.12">0.0</text>
<line x1="576.72" y1="508" x2="576.72" y2="510.4" stroke="#555" stroke-width="0.5"/>
<text x="576.72" y="518.8" font-size="5" font-family='"Liberation Sans", sans-serif' fill="#222" text-anchor="middle" stroke="#222" stroke-width="0.12">0.2</text>
<line x1="544" y1="481.36" x2="546.3" y2="481.36" stroke="#555" stroke-width="0.5"/>
<text x="540.3" y="481.36" font-size="5" font-family='"Liberation Sans", sans-serif' fill="#222" text-anchor="middle" transform="rotate(-90 540.3 481.36)" stroke="#222" stroke-width="0.12">0.2</text>
<line x1="602.24" y1="508" x2="602.24" y2="510.4" stroke="#555" stroke-width="0.5"/>
<text x="602.24" y="518.8" font-size="5" font-family='"Liberation Sans", sans-serif' fill="#222" text-anchor="middle" stroke="#222" stroke-width="0.12">0.4</text>
<line x1="544" y1="459.12" x2="546.3" y2="459.12" stroke="#555" stroke-width="0.5"/>
<text x="540.3" y="459.12" font-size="5" font-family='"Liberation Sans", sans-serif' fill="#222" text-anchor="middle" transform="rotate(-90 540.3 459.12)" stroke="#222" stroke-width="0.12">0.4</text>
<line x1="627.76" y1="508" x2="627.76" y2="510.4" stroke="#555" stroke-width="0.5"/>
<text x="627.76" y="518.8" font-size="5" font-family='"Liberation Sans", sans-serif' fill="#222" text-anchor="middle" stroke="#222" stroke-width="0.12">0.6</text>
<line x1="544" y1="436.88" x2="546.3" y2="436.88" stroke="#555" stroke-width="0.5"/>
<text x="540.3" y="436.88" font-size="5" font-family='"Liberation Sans", sans-serif' fill="#222" text-anchor="middle" transform="rotate(-90 540.3 436.88)" stroke="#222" stroke-width="0.12">0.6</text>
<line x1="653.28" y1="508" x2="653.28" y2="510.4" stroke="#555" stroke-width="0.5"/>
<text x="653.28" y="518.8" font-size="5" font-family='"Liberation Sans", sans-serif' fill="#222" text-anchor="middle" stroke="#222" stroke-width="0.12">0.8</text>
<line x1="544" y1="414.64" x2="546.3" y2="414.64" stroke="#555" stroke-width="0.5"/>
<text x="540.3" y="414.64" font-size="5" font-family='"Liberation Sans", sans-serif' fill="#222" text-anchor="middle" transform="rotate(-90 540.3 414.64)" stroke="#222" stroke-width="0.12">0.8</text>
<line x1="678.8" y1="508" x2="678.8" y2="510.4" stroke="#555" stroke-width="0.5"/>
<text x="678.8" y="518.8" font-size="5" font-family='"Liberation Sans", sans-serif' fill="#222" text-anchor="middle" stroke="#222" stroke-width="0.12">1.0</text>
<line x1="544" y1="392.4" x2="546.3" y2="392.4" stroke="#555" stroke-width="0.5"/>
<text x="540.3" y="392.4" font-size="5" font-family='"Liberation Sans", sans-serif' fill="#222" text-anchor="middle" transform="rotate(-90 540.3 392.4)" stroke="#222" stroke-width="0.12">1.0</text>
<text x="615.2" y="530.3" font-size="4.9" font-family='"Liberation Sans", sans-serif' fill="#222" text-anchor="middle" stroke="#222" stroke-width="0.12">Predicted probability</text>
<text x="528" y="448.3" font-size="4.95" font-family='"Liberation Sans", sans-serif' fill="#222" text-anchor="middle" transform="rotate(-90 528 448.3)" stroke="#222" stroke-width="0.12">Actual risk of VETC/MTM subtype</text>
<line x1="548.65" y1="505.82" x2="683.9" y2="387.95" stroke="#b0b0b0" stroke-width="0.8" stroke-dasharray="3.2,2.4"/>
<path d="M552.48,498.04 C555.35,495.26 564.11,486.18 569.7,481.36 C575.3,476.54 581.08,472.28 586.03,469.13 C590.99,465.98 594.31,465.61 599.43,462.46 C604.56,459.31 611.21,454.3 616.79,450.22 C622.36,446.15 624.87,444.39 632.86,437.99 C640.86,431.6 659.45,416.22 664.76,411.86" fill="none" stroke="#ff3030" stroke-width="1.3" stroke-linecap="round"/>
<path d="M554.39,494.26 C555.56,494.94 559.22,497.69 561.41,498.37 C563.6,499.06 564.79,499.23 567.53,498.37 C570.28,497.52 574.1,496.84 577.87,493.26 C581.63,489.68 586.52,482.05 590.12,476.91 C593.71,471.78 595.71,467.27 599.43,462.46 C603.15,457.64 607.2,453.37 612.45,448 C617.7,442.63 625.74,435.51 630.95,430.21 C636.16,424.91 641.58,418.53 643.71,416.2" fill="none" stroke="#30a030" stroke-width="1.3" stroke-linecap="round"/>
<path d="M560.51,499.15 C562.05,496.19 566.81,486.73 569.7,481.36 C572.59,475.99 574.78,470.89 577.87,466.9 C580.95,462.92 584.61,459.68 588.2,457.45 C591.8,455.23 595.39,455.14 599.43,453.56 C603.47,451.98 606.88,450.59 612.45,448 C618.02,445.41 623.93,442.25 632.86,437.99 C641.8,433.73 660.51,425.02 666.04,422.42" fill="none" stroke="#3030ff" stroke-width="1.3" stroke-linecap="round"/>
<line x1="644.4" y1="482.8" x2="651.6" y2="482.8" stroke="#ff3030" stroke-width="1.1"/>
<text x="654.9" y="484.25" font-size="3.9" font-family='"Liberation Sans", sans-serif' fill="#ff3030" font-weight="bold" stroke="#ff3030" stroke-width="0.12">Training set</text>
<line x1="644.4" y1="489.1" x2="651.6" y2="489.1" stroke="#3030ff" stroke-width="1.1"/>
<text x="654.9" y="490.55" font-size="3.9" font-family='"Liberation Sans", sans-serif' fill="#3030ff" font-weight="bold" stroke="#3030ff" stroke-width="0.12">Validation set1</text>
<line x1="644.4" y1="495.4" x2="651.6" y2="495.4" stroke="#30a030" stroke-width="1.1"/>
<text x="654.9" y="496.85" font-size="3.9" font-family='"Liberation Sans", sans-serif' fill="#30a030" font-weight="bold" stroke="#30a030" stroke-width="0.12">Validation set2</text>
<line x1="644.4" y1="501.7" x2="651.6" y2="501.7" stroke="#cfcfcf" stroke-width="0.8" stroke-dasharray="2.5,2"/>
<text x="654.9" y="503.15" font-size="3.9" font-family='"Liberation Sans", sans-serif' fill="#cfcfcf" font-weight="bold" stroke="#cfcfcf" stroke-width="0.12">Ideal</text>
<text x="8.9" y="565.6" font-size="14.2" font-family='"Liberation Sans", sans-serif' fill="#000">k</text>
<line x1="61.3" y1="566.9" x2="61.3" y2="693.4" stroke="#333" stroke-width="0.8"/>
<line x1="61.3" y1="693.4" x2="318.4" y2="693.4" stroke="#333" stroke-width="0.8"/>
<line x1="59.5" y1="687.6" x2="61.3" y2="687.6" stroke="#333" stroke-width="0.6"/>
<text x="58.7" y="690" font-size="6.8" font-family='"Liberation Sans", sans-serif' fill="#333" text-anchor="end" stroke="#333" stroke-width="0.12">0.00</text>
<line x1="59.5" y1="658.75" x2="61.3" y2="658.75" stroke="#333" stroke-width="0.6"/>
<text x="58.7" y="661.15" font-size="6.8" font-family='"Liberation Sans", sans-serif' fill="#333" text-anchor="end" stroke="#333" stroke-width="0.12">0.25</text>
<line x1="59.5" y1="629.9" x2="61.3" y2="629.9" stroke="#333" stroke-width="0.6"/>
<text x="58.7" y="632.3" font-size="6.8" font-family='"Liberation Sans", sans-serif' fill="#333" text-anchor="end" stroke="#333" stroke-width="0.12">0.50</text>
<line x1="59.5" y1="601.05" x2="61.3" y2="601.05" stroke="#333" stroke-width="0.6"/>
<text x="58.7" y="603.45" font-size="6.8" font-family='"Liberation Sans", sans-serif' fill="#333" text-anchor="end" stroke="#333" stroke-width="0.12">0.75</text>
<line x1="59.5" y1="572.2" x2="61.3" y2="572.2" stroke="#333" stroke-width="0.6"/>
<text x="58.7" y="574.6" font-size="6.8" font-family='"Liberation Sans", sans-serif' fill="#333" text-anchor="end" stroke="#333" stroke-width="0.12">1.00</text>
<line x1="73.6" y1="693.4" x2="73.6" y2="695.2" stroke="#333" stroke-width="0.6"/>
<text x="73.6" y="700.2" font-size="6.6" font-family='"Liberation Sans", sans-serif' fill="#333" text-anchor="middle" stroke="#333" stroke-width="0.12">0</text>
<line x1="132.6" y1="693.4" x2="132.6" y2="695.2" stroke="#333" stroke-width="0.6"/>
<text x="132.6" y="700.2" font-size="6.6" font-family='"Liberation Sans", sans-serif' fill="#333" text-anchor="middle" stroke="#333" stroke-width="0.12">500</text>
<line x1="191.6" y1="693.4" x2="191.6" y2="695.2" stroke="#333" stroke-width="0.6"/>
<text x="191.6" y="700.2" font-size="6.6" font-family='"Liberation Sans", sans-serif' fill="#333" text-anchor="middle" stroke="#333" stroke-width="0.12">1000</text>
<line x1="250.6" y1="693.4" x2="250.6" y2="695.2" stroke="#333" stroke-width="0.6"/>
<text x="250.6" y="700.2" font-size="6.6" font-family='"Liberation Sans", sans-serif' fill="#333" text-anchor="middle" stroke="#333" stroke-width="0.12">1500</text>
<line x1="309.6" y1="693.4" x2="309.6" y2="695.2" stroke="#333" stroke-width="0.6"/>
<text x="309.6" y="700.2" font-size="6.6" font-family='"Liberation Sans", sans-serif' fill="#333" text-anchor="middle" stroke="#333" stroke-width="0.12">2000</text>
<text x="189.85" y="710.3" font-size="7.1" font-family='"Liberation Sans", sans-serif' fill="#111" text-anchor="middle" stroke="#111" stroke-width="0.12">Time(days)</text>
<text x="36" y="622.6" font-size="8.6" font-family='"Liberation Sans", sans-serif' fill="#111" text-anchor="middle" transform="rotate(-90 36 622.6)" stroke="#111" stroke-width="0.12">Progression−free survival(%)</text>
<line x1="73.3" y1="630.5" x2="156.5" y2="630.5" stroke="#5a5a5a" stroke-width="0.8" stroke-dasharray="1.9,1.2"/>
<line x1="156.5" y1="630.5" x2="156.5" y2="687.6" stroke="#5a5a5a" stroke-width="0.8" stroke-dasharray="1.9,1.2"/>
<path d="M73.2,572.2 L76.1,572.2 L76.1,573.8 L77.3,573.8 L77.3,576.1 L78.4,576.1 L78.4,578.4 L81.4,578.4 L81.4,580.2 L82.5,580.2 L82.5,582.5 L83.1,582.5 L83.1,584.9 L83.7,584.9 L83.7,587.8 L84.3,587.8 L84.3,590.7 L84.9,590.7 L84.9,593.6 L85.4,593.6 L85.4,596 L88.4,596 L88.4,597.7 L89.5,597.7 L89.5,599.5 L90.5,599.5 L90.5,602.6 L95.9,602.6 L95.9,604.1 L97.1,604.1 L97.1,605.3 L99.5,605.3 L99.5,607 L100.6,607 L100.6,609.4 L102.4,609.4 L102.4,612.3 L104.7,612.3 L104.7,614 L105.9,614 L105.9,616.4 L106.8,616.4 L106.8,618.1 L108.2,618.1 L108.2,620.2 L142.1,620.2 L142.1,624.2 L146,624.2 L146,628.5 L156.5,628.5 L156.5,633.5 L159.2,633.5 L159.2,638.4 L173.4,638.4 L173.4,645.8 L175.5,645.8 L175.5,652 L179.6,652 L179.6,659.4 L290.6,659.4 L290.6,673.5 L318.4,673.5" fill="none" stroke="#ee2020" stroke-width="0.9"/>
<path d="M73.2,572.2 L76.1,572.2 L76.1,573.8 L78.4,573.8 L78.4,576.3 L90.7,576.3 L90.7,579.6 L91.3,579.6 L91.3,583.1 L94.8,583.1 L94.8,584.9 L95.9,584.9 L95.9,586.6 L97.7,586.6 L97.7,588.1 L100,588.1 L100,590.1 L101.2,590.1 L101.2,592.4 L102.1,592.4 L102.1,594.2 L110.5,594.2 L110.5,596.5 L131.6,596.5 L131.6,600.4 L140.4,600.4 L140.4,604.3 L178.8,604.3 L178.8,610.7 L194.2,610.7 L194.2,620.3 L318.4,620.3" fill="none" stroke="#2020ee" stroke-width="0.9"/>
<line x1="93" y1="601.3" x2="93" y2="603.9" stroke="#ee2020" stroke-width="0.8"/>
<line x1="98.3" y1="604" x2="98.3" y2="606.6" stroke="#ee2020" stroke-width="0.8"/>
<line x1="103.5" y1="611" x2="103.5" y2="613.6" stroke="#ee2020" stroke-width="0.8"/>
<line x1="115.8" y1="618.9" x2="115.8" y2="621.5" stroke="#ee2020" stroke-width="0.8"/>
<line x1="126.9" y1="618.9" x2="126.9" y2="621.5" stroke="#ee2020" stroke-width="0.8"/>
<line x1="132.7" y1="618.9" x2="132.7" y2="621.5" stroke="#ee2020" stroke-width="0.8"/>
<line x1="137.4" y1="618.9" x2="137.4" y2="621.5" stroke="#ee2020" stroke-width="0.8"/>
<line x1="140.9" y1="618.9" x2="140.9" y2="621.5" stroke="#ee2020" stroke-width="0.8"/>
<line x1="166" y1="637" x2="166" y2="639.6" stroke="#ee2020" stroke-width="0.8"/>
<line x1="254.4" y1="658.1" x2="254.4" y2="660.7" stroke="#ee2020" stroke-width="0.8"/>
<line x1="79.6" y1="575" x2="79.6" y2="577.6" stroke="#2020ee" stroke-width="0.8"/>
<line x1="85.4" y1="575" x2="85.4" y2="577.6" stroke="#2020ee" stroke-width="0.8"/>
<line x1="87.2" y1="575" x2="87.2" y2="577.6" stroke="#2020ee" stroke-width="0.8"/>
<line x1="89" y1="575" x2="89" y2="577.6" stroke="#2020ee" stroke-width="0.8"/>
<line x1="92.5" y1="581.8" x2="92.5" y2="584.4" stroke="#2020ee" stroke-width="0.8"/>
<line x1="93.6" y1="581.8" x2="93.6" y2="584.4" stroke="#2020ee" stroke-width="0.8"/>
<line x1="98.9" y1="586.8" x2="98.9" y2="589.4" stroke="#2020ee" stroke-width="0.8"/>
<line x1="111.7" y1="595.2" x2="111.7" y2="597.8" stroke="#2020ee" stroke-width="0.8"/>
<line x1="114" y1="595.2" x2="114" y2="597.8" stroke="#2020ee" stroke-width="0.8"/>
<line x1="116.4" y1="595.2" x2="116.4" y2="597.8" stroke="#2020ee" stroke-width="0.8"/>
<line x1="118.7" y1="595.2" x2="118.7" y2="597.8" stroke="#2020ee" stroke-width="0.8"/>
<line x1="127.5" y1="595.2" x2="127.5" y2="597.8" stroke="#2020ee" stroke-width="0.8"/>
<line x1="138" y1="599.1" x2="138" y2="601.7" stroke="#2020ee" stroke-width="0.8"/>
<line x1="143.8" y1="603" x2="143.8" y2="605.6" stroke="#2020ee" stroke-width="0.8"/>
<line x1="147.9" y1="603" x2="147.9" y2="605.6" stroke="#2020ee" stroke-width="0.8"/>
<line x1="150.9" y1="603" x2="150.9" y2="605.6" stroke="#2020ee" stroke-width="0.8"/>
<line x1="154" y1="603" x2="154" y2="605.6" stroke="#2020ee" stroke-width="0.8"/>
<line x1="157.1" y1="603" x2="157.1" y2="605.6" stroke="#2020ee" stroke-width="0.8"/>
<line x1="160.1" y1="603" x2="160.1" y2="605.6" stroke="#2020ee" stroke-width="0.8"/>
<line x1="162.2" y1="603" x2="162.2" y2="605.6" stroke="#2020ee" stroke-width="0.8"/>
<line x1="171.4" y1="603" x2="171.4" y2="605.6" stroke="#2020ee" stroke-width="0.8"/>
<line x1="182.6" y1="609.4" x2="182.6" y2="612" stroke="#2020ee" stroke-width="0.8"/>
<line x1="185.7" y1="609.4" x2="185.7" y2="612" stroke="#2020ee" stroke-width="0.8"/>
<line x1="192.8" y1="609.4" x2="192.8" y2="612" stroke="#2020ee" stroke-width="0.8"/>
<line x1="210.7" y1="619" x2="210.7" y2="621.6" stroke="#2020ee" stroke-width="0.8"/>
<line x1="212" y1="619" x2="212" y2="621.6" stroke="#2020ee" stroke-width="0.8"/>
<line x1="219" y1="619" x2="219" y2="621.6" stroke="#2020ee" stroke-width="0.8"/>
<line x1="263.6" y1="619" x2="263.6" y2="621.6" stroke="#2020ee" stroke-width="0.8"/>
<line x1="300.4" y1="619" x2="300.4" y2="621.6" stroke="#2020ee" stroke-width="0.8"/>
<line x1="176.1" y1="566.4" x2="186.6" y2="566.4" stroke="#2020ee" stroke-width="1.0"/>
<line x1="181.35" y1="564.4" x2="181.35" y2="568.4" stroke="#2020ee" stroke-width="1.1"/>
<text x="192.6" y="569.2" font-size="7.7" font-family='"Liberation Sans", sans-serif' fill="#111" stroke="#111" stroke-width="0.12">Radscore low</text>
<line x1="242.5" y1="566.4" x2="253" y2="566.4" stroke="#ee2020" stroke-width="1.0"/>
<line x1="247.75" y1="564.4" x2="247.75" y2="568.4" stroke="#ee2020" stroke-width="1.1"/>
<text x="258.5" y="569.2" font-size="7.7" font-family='"Liberation Sans", sans-serif' fill="#111" stroke="#111" stroke-width="0.12">Radscore high</text>
<text x="201.6" y="604.6" font-size="10.5" font-family='"Liberation Sans", sans-serif' fill="#111" font-weight="bold" font-style="italic">Log−rank <tspan dx="1.6">p = 0.0027</tspan></text>
<text x="61.7" y="727.3" font-size="5.6" font-family='"Liberation Sans", sans-serif' fill="#111" stroke="#111" stroke-width="0.12">Number at risk</text>
<line x1="61.3" y1="729.9" x2="61.3" y2="759.4" stroke="#333" stroke-width="0.8"/>
<line x1="61.3" y1="759.4" x2="318.4" y2="759.4" stroke="#333" stroke-width="0.8"/>
<line x1="59.5" y1="736.9" x2="61.3" y2="736.9" stroke="#333" stroke-width="0.6"/>
<text x="58.6" y="739.4" font-size="7.0" font-family='"Liberation Sans", sans-serif' fill="#2020ee" text-anchor="end" stroke="#2020ee" stroke-width="0.12">Radscore low</text>
<text x="74.4" y="739.2" font-size="6.4" font-family='"Liberation Sans", sans-serif' fill="#111" text-anchor="middle" stroke="#111" stroke-width="0.12">55</text>
<text x="133.4" y="739.2" font-size="6.4" font-family='"Liberation Sans", sans-serif' fill="#111" text-anchor="middle" stroke="#111" stroke-width="0.12">24</text>
<text x="192.4" y="739.2" font-size="6.4" font-family='"Liberation Sans", sans-serif' fill="#111" text-anchor="middle" stroke="#111" stroke-width="0.12">9</text>
<text x="251.4" y="739.2" font-size="6.4" font-family='"Liberation Sans", sans-serif' fill="#111" text-anchor="middle" stroke="#111" stroke-width="0.12">3</text>
<text x="310.4" y="739.2" font-size="6.4" font-family='"Liberation Sans", sans-serif' fill="#111" text-anchor="middle" stroke="#111" stroke-width="0.12">1</text>
<line x1="59.5" y1="750.7" x2="61.3" y2="750.7" stroke="#333" stroke-width="0.6"/>
<text x="58.6" y="753.2" font-size="7.0" font-family='"Liberation Sans", sans-serif' fill="#ee2020" text-anchor="end" stroke="#ee2020" stroke-width="0.12">Radscore high</text>
<text x="74.4" y="753" font-size="6.4" font-family='"Liberation Sans", sans-serif' fill="#111" text-anchor="middle" stroke="#111" stroke-width="0.12">55</text>
<text x="133.4" y="753" font-size="6.4" font-family='"Liberation Sans", sans-serif' fill="#111" text-anchor="middle" stroke="#111" stroke-width="0.12">21</text>
<text x="192.4" y="753" font-size="6.4" font-family='"Liberation Sans", sans-serif' fill="#111" text-anchor="middle" stroke="#111" stroke-width="0.12">3</text>
<text x="251.4" y="753" font-size="6.4" font-family='"Liberation Sans", sans-serif' fill="#111" text-anchor="middle" stroke="#111" stroke-width="0.12">3</text>
<text x="310.4" y="753" font-size="6.4" font-family='"Liberation Sans", sans-serif' fill="#111" text-anchor="middle" stroke="#111" stroke-width="0.12">1</text>
<line x1="73.6" y1="759.4" x2="73.6" y2="761.2" stroke="#333" stroke-width="0.6"/>
<text x="73.6" y="766.8" font-size="6.2" font-family='"Liberation Sans", sans-serif' fill="#333" text-anchor="middle" stroke="#333" stroke-width="0.12">0</text>
<line x1="132.6" y1="759.4" x2="132.6" y2="761.2" stroke="#333" stroke-width="0.6"/>
<text x="132.6" y="766.8" font-size="6.2" font-family='"Liberation Sans", sans-serif' fill="#333" text-anchor="middle" stroke="#333" stroke-width="0.12">500</text>
<line x1="191.6" y1="759.4" x2="191.6" y2="761.2" stroke="#333" stroke-width="0.6"/>
<text x="191.6" y="766.8" font-size="6.2" font-family='"Liberation Sans", sans-serif' fill="#333" text-anchor="middle" stroke="#333" stroke-width="0.12">1000</text>
<line x1="250.6" y1="759.4" x2="250.6" y2="761.2" stroke="#333" stroke-width="0.6"/>
<text x="250.6" y="766.8" font-size="6.2" font-family='"Liberation Sans", sans-serif' fill="#333" text-anchor="middle" stroke="#333" stroke-width="0.12">1500</text>
<line x1="309.6" y1="759.4" x2="309.6" y2="761.2" stroke="#333" stroke-width="0.6"/>
<text x="309.6" y="766.8" font-size="6.2" font-family='"Liberation Sans", sans-serif' fill="#333" text-anchor="middle" stroke="#333" stroke-width="0.12">2000</text>
<text x="189.85" y="776.1" font-size="7.1" font-family='"Liberation Sans", sans-serif' fill="#111" text-anchor="middle" stroke="#111" stroke-width="0.12">Time(days)</text>
<text x="359.9" y="565.6" font-size="14.2" font-family='"Liberation Sans", sans-serif' fill="#000">l</text>
<line x1="407.3" y1="566.9" x2="407.3" y2="693.4" stroke="#333" stroke-width="0.8"/>
<line x1="407.3" y1="693.4" x2="654.7" y2="693.4" stroke="#333" stroke-width="0.8"/>
<line x1="405.5" y1="687" x2="407.3" y2="687" stroke="#333" stroke-width="0.6"/>
<text x="404.7" y="689.4" font-size="6.8" font-family='"Liberation Sans", sans-serif' fill="#333" text-anchor="end" stroke="#333" stroke-width="0.12">0.00</text>
<line x1="405.5" y1="658.1" x2="407.3" y2="658.1" stroke="#333" stroke-width="0.6"/>
<text x="404.7" y="660.5" font-size="6.8" font-family='"Liberation Sans", sans-serif' fill="#333" text-anchor="end" stroke="#333" stroke-width="0.12">0.25</text>
<line x1="405.5" y1="629.2" x2="407.3" y2="629.2" stroke="#333" stroke-width="0.6"/>
<text x="404.7" y="631.6" font-size="6.8" font-family='"Liberation Sans", sans-serif' fill="#333" text-anchor="end" stroke="#333" stroke-width="0.12">0.50</text>
<line x1="405.5" y1="600.3" x2="407.3" y2="600.3" stroke="#333" stroke-width="0.6"/>
<text x="404.7" y="602.7" font-size="6.8" font-family='"Liberation Sans", sans-serif' fill="#333" text-anchor="end" stroke="#333" stroke-width="0.12">0.75</text>
<line x1="405.5" y1="571.4" x2="407.3" y2="571.4" stroke="#333" stroke-width="0.6"/>
<text x="404.7" y="573.8" font-size="6.8" font-family='"Liberation Sans", sans-serif' fill="#333" text-anchor="end" stroke="#333" stroke-width="0.12">1.00</text>
<line x1="419.5" y1="693.4" x2="419.5" y2="695.2" stroke="#333" stroke-width="0.6"/>
<text x="419.5" y="700.2" font-size="6.6" font-family='"Liberation Sans", sans-serif' fill="#333" text-anchor="middle" stroke="#333" stroke-width="0.12">0</text>
<line x1="475.7" y1="693.4" x2="475.7" y2="695.2" stroke="#333" stroke-width="0.6"/>
<text x="475.7" y="700.2" font-size="6.6" font-family='"Liberation Sans", sans-serif' fill="#333" text-anchor="middle" stroke="#333" stroke-width="0.12">500</text>
<line x1="531.9" y1="693.4" x2="531.9" y2="695.2" stroke="#333" stroke-width="0.6"/>
<text x="531.9" y="700.2" font-size="6.6" font-family='"Liberation Sans", sans-serif' fill="#333" text-anchor="middle" stroke="#333" stroke-width="0.12">1000</text>
<line x1="588.1" y1="693.4" x2="588.1" y2="695.2" stroke="#333" stroke-width="0.6"/>
<text x="588.1" y="700.2" font-size="6.6" font-family='"Liberation Sans", sans-serif' fill="#333" text-anchor="middle" stroke="#333" stroke-width="0.12">1500</text>
<line x1="644.3" y1="693.4" x2="644.3" y2="695.2" stroke="#333" stroke-width="0.6"/>
<text x="644.3" y="700.2" font-size="6.6" font-family='"Liberation Sans", sans-serif' fill="#333" text-anchor="middle" stroke="#333" stroke-width="0.12">2000</text>
<text x="531" y="710.3" font-size="7.1" font-family='"Liberation Sans", sans-serif' fill="#111" text-anchor="middle" stroke="#111" stroke-width="0.12">Time(days)</text>
<text x="382" y="622.6" font-size="8.6" font-family='"Liberation Sans", sans-serif' fill="#111" text-anchor="middle" transform="rotate(-90 382 622.6)" stroke="#111" stroke-width="0.12">Progression−free survival(%)</text>
<line x1="419.5" y1="629.5" x2="628" y2="629.5" stroke="#5a5a5a" stroke-width="0.8" stroke-dasharray="1.9,1.2"/>
<line x1="501.5" y1="629.5" x2="501.5" y2="687" stroke="#5a5a5a" stroke-width="0.8" stroke-dasharray="1.9,1.2"/>
<line x1="628" y1="629.5" x2="628" y2="687" stroke="#5a5a5a" stroke-width="0.8" stroke-dasharray="1.9,1.2"/>
<path d="M419.7,571.4 L420.8,571.4 L420.8,572.6 L422,572.6 L422,574.3 L423.2,574.3 L423.2,576.7 L424.3,576.7 L424.3,579.6 L426.1,579.6 L426.1,581.9 L427.3,581.9 L427.3,582.5 L427.8,582.5 L427.8,586 L428.8,586 L428.8,590.1 L429.6,590.1 L429.6,594.2 L435.4,594.2 L435.4,595.4 L436,595.4 L436,605.9 L439.5,605.9 L439.5,607 L441.3,607 L441.3,608.2 L444.8,608.2 L444.8,610 L445.9,610 L445.9,612.9 L447.7,612.9 L447.7,614.6 L448.9,614.6 L448.9,615.8 L450,615.8 L450,617 L451.2,617 L451.2,618.1 L452.4,618.1 L452.4,620.1 L497.6,620.1 L497.6,624.5 L501.3,624.5 L501.3,629.6 L515.2,629.6 L515.2,635.9 L517.5,635.9 L517.5,641.8 L521,641.8 L521,650 L654.2,650" fill="none" stroke="#ee2020" stroke-width="0.9"/>
<path d="M419.7,571.4 L422.6,571.4 L422.6,572.2 L424.3,572.2 L424.3,573.2 L429.6,573.2 L429.6,574.1 L430.8,574.1 L430.8,575.7 L432.5,575.7 L432.5,576.7 L433.7,576.7 L433.7,578.1 L439.5,578.1 L439.5,579.6 L440.7,579.6 L440.7,581.4 L441.9,581.4 L441.9,583.1 L444.8,583.1 L444.8,584.9 L445.4,584.9 L445.4,587.2 L446.5,587.2 L446.5,588.9 L450.6,588.9 L450.6,590.7 L451.8,590.7 L451.8,592.4 L454.7,592.4 L454.7,595.4 L474.6,595.4 L474.6,599.1 L483.3,599.1 L483.3,602.4 L485.1,602.4 L485.1,605.3 L485.7,605.3 L485.7,608.2 L488.6,608.2 L488.6,612.3 L519.9,612.3 L519.9,618.9 L535.5,618.9 L535.5,629.1 L628,629.1 L628,658.1 L637.8,658.1" fill="none" stroke="#2020ee" stroke-width="0.9"/>
<line x1="432.5" y1="592.9" x2="432.5" y2="595.5" stroke="#ee2020" stroke-width="0.8"/>
<line x1="433.7" y1="592.9" x2="433.7" y2="595.5" stroke="#ee2020" stroke-width="0.8"/>
<line x1="438.4" y1="604.6" x2="438.4" y2="607.2" stroke="#ee2020" stroke-width="0.8"/>
<line x1="458.2" y1="618.8" x2="458.2" y2="621.4" stroke="#ee2020" stroke-width="0.8"/>
<line x1="460" y1="618.8" x2="460" y2="621.4" stroke="#ee2020" stroke-width="0.8"/>
<line x1="475.7" y1="618.8" x2="475.7" y2="621.4" stroke="#ee2020" stroke-width="0.8"/>
<line x1="480.4" y1="618.8" x2="480.4" y2="621.4" stroke="#ee2020" stroke-width="0.8"/>
<line x1="485.1" y1="618.8" x2="485.1" y2="621.4" stroke="#ee2020" stroke-width="0.8"/>
<line x1="486.8" y1="618.8" x2="486.8" y2="621.4" stroke="#ee2020" stroke-width="0.8"/>
<line x1="492.7" y1="618.8" x2="492.7" y2="621.4" stroke="#ee2020" stroke-width="0.8"/>
<line x1="526.9" y1="648.7" x2="526.9" y2="651.3" stroke="#ee2020" stroke-width="0.8"/>
<line x1="549.1" y1="648.7" x2="549.1" y2="651.3" stroke="#ee2020" stroke-width="0.8"/>
<line x1="593.4" y1="648.7" x2="593.4" y2="651.3" stroke="#ee2020" stroke-width="0.8"/>
<line x1="425.5" y1="571.9" x2="425.5" y2="574.5" stroke="#2020ee" stroke-width="0.8"/>
<line x1="426.7" y1="571.9" x2="426.7" y2="574.5" stroke="#2020ee" stroke-width="0.8"/>
<line x1="434.9" y1="576.8" x2="434.9" y2="579.4" stroke="#2020ee" stroke-width="0.8"/>
<line x1="436" y1="576.8" x2="436" y2="579.4" stroke="#2020ee" stroke-width="0.8"/>
<line x1="438.4" y1="576.8" x2="438.4" y2="579.4" stroke="#2020ee" stroke-width="0.8"/>
<line x1="443" y1="581.8" x2="443" y2="584.4" stroke="#2020ee" stroke-width="0.8"/>
<line x1="443.6" y1="581.8" x2="443.6" y2="584.4" stroke="#2020ee" stroke-width="0.8"/>
<line x1="450" y1="587.6" x2="450" y2="590.2" stroke="#2020ee" stroke-width="0.8"/>
<line x1="453.5" y1="591.1" x2="453.5" y2="593.7" stroke="#2020ee" stroke-width="0.8"/>
<line x1="459.4" y1="594.1" x2="459.4" y2="596.7" stroke="#2020ee" stroke-width="0.8"/>
<line x1="462.9" y1="594.1" x2="462.9" y2="596.7" stroke="#2020ee" stroke-width="0.8"/>
<line x1="471.1" y1="594.1" x2="471.1" y2="596.7" stroke="#2020ee" stroke-width="0.8"/>
<line x1="481.6" y1="597.8" x2="481.6" y2="600.4" stroke="#2020ee" stroke-width="0.8"/>
<line x1="484.5" y1="601.1" x2="484.5" y2="603.7" stroke="#2020ee" stroke-width="0.8"/>
<line x1="492.9" y1="611" x2="492.9" y2="613.6" stroke="#2020ee" stroke-width="0.8"/>
<line x1="497.6" y1="611" x2="497.6" y2="613.6" stroke="#2020ee" stroke-width="0.8"/>
<line x1="505" y1="611" x2="505" y2="613.6" stroke="#2020ee" stroke-width="0.8"/>
<line x1="508.2" y1="611" x2="508.2" y2="613.6" stroke="#2020ee" stroke-width="0.8"/>
<line x1="512.8" y1="611" x2="512.8" y2="613.6" stroke="#2020ee" stroke-width="0.8"/>
<line x1="532.7" y1="617.6" x2="532.7" y2="620.2" stroke="#2020ee" stroke-width="0.8"/>
<line x1="551.4" y1="627.8" x2="551.4" y2="630.4" stroke="#2020ee" stroke-width="0.8"/>
<line x1="558.4" y1="627.8" x2="558.4" y2="630.4" stroke="#2020ee" stroke-width="0.8"/>
<line x1="601.6" y1="627.8" x2="601.6" y2="630.4" stroke="#2020ee" stroke-width="0.8"/>
<line x1="637.8" y1="656.8" x2="637.8" y2="659.4" stroke="#2020ee" stroke-width="0.8"/>
<line x1="471.2" y1="566.1" x2="481.7" y2="566.1" stroke="#2020ee" stroke-width="1.0"/>
<line x1="476.45" y1="564.1" x2="476.45" y2="568.1" stroke="#2020ee" stroke-width="1.1"/>
<text x="487" y="568.9" font-size="7.83" font-family='"Liberation Sans", sans-serif' fill="#111" stroke="#111" stroke-width="0.12">Clinic−radscore low</text>
<line x1="557.3" y1="566.1" x2="567.8" y2="566.1" stroke="#ee2020" stroke-width="1.0"/>
<line x1="562.55" y1="564.1" x2="562.55" y2="568.1" stroke="#ee2020" stroke-width="1.1"/>
<text x="572.9" y="568.9" font-size="7.83" font-family='"Liberation Sans", sans-serif' fill="#111" stroke="#111" stroke-width="0.12">Clinic−radscore high</text>
<text x="531.4" y="601.8" font-size="10.5" font-family='"Liberation Sans", sans-serif' fill="#111" font-weight="bold" font-style="italic">Log−rank <tspan dx="1.6">p = 0.036</tspan></text>
<text x="407.7" y="728.2" font-size="5.6" font-family='"Liberation Sans", sans-serif' fill="#111" stroke="#111" stroke-width="0.12">Number at risk</text>
<line x1="407.3" y1="730.8" x2="407.3" y2="760.3" stroke="#333" stroke-width="0.8"/>
<line x1="407.3" y1="760.3" x2="654.7" y2="760.3" stroke="#333" stroke-width="0.8"/>
<line x1="405.5" y1="737.8" x2="407.3" y2="737.8" stroke="#333" stroke-width="0.6"/>
<text x="404" y="740.3" font-size="7.0" font-family='"Liberation Sans", sans-serif' fill="#2020ee" text-anchor="end" stroke="#2020ee" stroke-width="0.12">Clinic−radscore low</text>
<text x="420.3" y="740.1" font-size="6.4" font-family='"Liberation Sans", sans-serif' fill="#111" text-anchor="middle" stroke="#111" stroke-width="0.12">55</text>
<text x="476.5" y="740.1" font-size="6.4" font-family='"Liberation Sans", sans-serif' fill="#111" text-anchor="middle" stroke="#111" stroke-width="0.12">22</text>
<text x="532.7" y="740.1" font-size="6.4" font-family='"Liberation Sans", sans-serif' fill="#111" text-anchor="middle" stroke="#111" stroke-width="0.12">8</text>
<text x="588.9" y="740.1" font-size="6.4" font-family='"Liberation Sans", sans-serif' fill="#111" text-anchor="middle" stroke="#111" stroke-width="0.12">3</text>
<text x="645.1" y="740.1" font-size="6.4" font-family='"Liberation Sans", sans-serif' fill="#111" text-anchor="middle" stroke="#111" stroke-width="0.12">0</text>
<line x1="405.5" y1="751.6" x2="407.3" y2="751.6" stroke="#333" stroke-width="0.6"/>
<text x="404" y="754.1" font-size="7.0" font-family='"Liberation Sans", sans-serif' fill="#ee2020" text-anchor="end" stroke="#ee2020" stroke-width="0.12">Clinic−radscore high</text>
<text x="420.3" y="753.9" font-size="6.4" font-family='"Liberation Sans", sans-serif' fill="#111" text-anchor="middle" stroke="#111" stroke-width="0.12">55</text>
<text x="476.5" y="753.9" font-size="6.4" font-family='"Liberation Sans", sans-serif' fill="#111" text-anchor="middle" stroke="#111" stroke-width="0.12">23</text>
<text x="532.7" y="753.9" font-size="6.4" font-family='"Liberation Sans", sans-serif' fill="#111" text-anchor="middle" stroke="#111" stroke-width="0.12">4</text>
<text x="588.9" y="753.9" font-size="6.4" font-family='"Liberation Sans", sans-serif' fill="#111" text-anchor="middle" stroke="#111" stroke-width="0.12">3</text>
<text x="645.1" y="753.9" font-size="6.4" font-family='"Liberation Sans", sans-serif' fill="#111" text-anchor="middle" stroke="#111" stroke-width="0.12">2</text>
<line x1="419.5" y1="760.3" x2="419.5" y2="762.1" stroke="#333" stroke-width="0.6"/>
<text x="419.5" y="767.7" font-size="6.2" font-family='"Liberation Sans", sans-serif' fill="#333" text-anchor="middle" stroke="#333" stroke-width="0.12">0</text>
<line x1="475.7" y1="760.3" x2="475.7" y2="762.1" stroke="#333" stroke-width="0.6"/>
<text x="475.7" y="767.7" font-size="6.2" font-family='"Liberation Sans", sans-serif' fill="#333" text-anchor="middle" stroke="#333" stroke-width="0.12">500</text>
<line x1="531.9" y1="760.3" x2="531.9" y2="762.1" stroke="#333" stroke-width="0.6"/>
<text x="531.9" y="767.7" font-size="6.2" font-family='"Liberation Sans", sans-serif' fill="#333" text-anchor="middle" stroke="#333" stroke-width="0.12">1000</text>
<line x1="588.1" y1="760.3" x2="588.1" y2="762.1" stroke="#333" stroke-width="0.6"/>
<text x="588.1" y="767.7" font-size="6.2" font-family='"Liberation Sans", sans-serif' fill="#333" text-anchor="middle" stroke="#333" stroke-width="0.12">1500</text>
<line x1="644.3" y1="760.3" x2="644.3" y2="762.1" stroke="#333" stroke-width="0.6"/>
<text x="644.3" y="767.7" font-size="6.2" font-family='"Liberation Sans", sans-serif' fill="#333" text-anchor="middle" stroke="#333" stroke-width="0.12">2000</text>
<text x="531" y="777" font-size="7.1" font-family='"Liberation Sans", sans-serif' fill="#111" text-anchor="middle" stroke="#111" stroke-width="0.12">Time(days)</text>
</svg>
</body></html>
